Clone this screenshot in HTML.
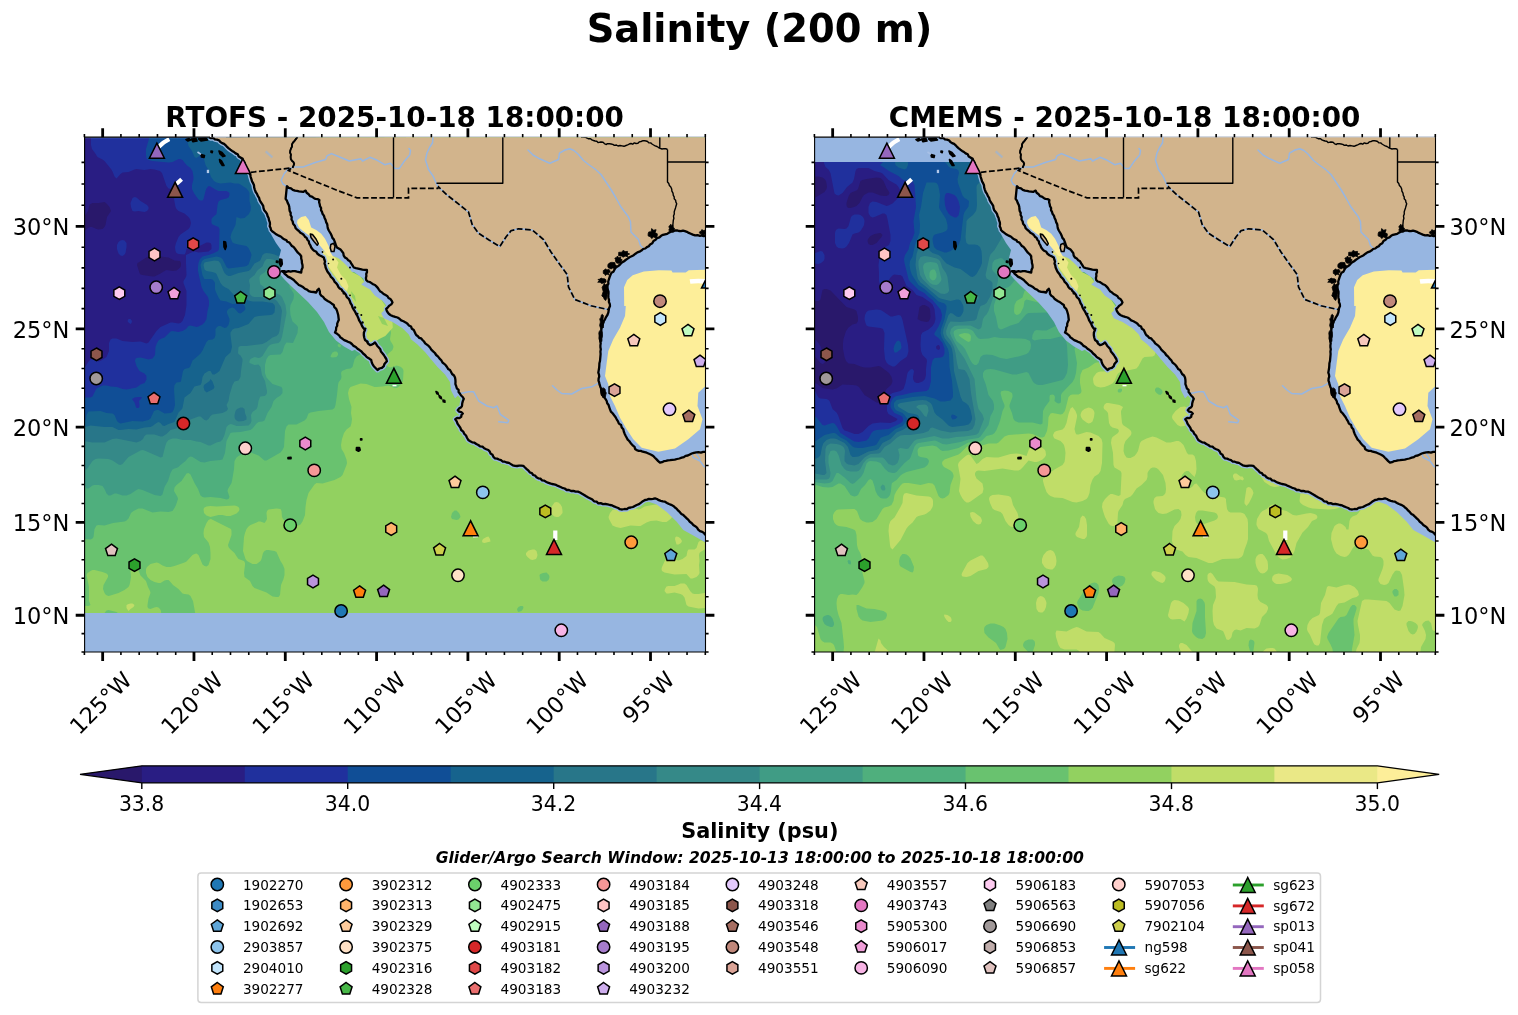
<!DOCTYPE html><html><head><meta charset="utf-8"><title>Salinity (200 m)</title>
<style>html,body{margin:0;padding:0;background:#fff}body{width:1518px;height:1015px;overflow:hidden}svg{display:block;will-change:transform}text{font-family:"DejaVu Sans","Liberation Sans",sans-serif;fill:#000}.b{font-weight:bold}.bi{font-weight:bold;font-style:italic}</style></head><body>
<svg width="1518" height="1015" viewBox="0 0 1518 1015">
<defs>
<clipPath id="axc"><rect x="84.6" y="137.15" width="620.9" height="514.85"/></clipPath>
<path id="landfill" d="M209,137.2  L707.5,135.2  L707.5,235.8  L703.6,236.2  L701.8,235.4  L699.9,235.8  L697.6,235.1  L695.1,235.3  L692.8,234.6  L690.8,233.7  L688.8,232.9  L686.9,231.8  L684.9,231.1  L683.0,230.6  L680.9,231.1  L678.9,231.0  L677.0,230.3  L674.9,230.5  L673.0,231.5  L670.9,231.7  L669.0,232.6  L667.2,233.9  L665.1,234.3  L663.0,234.8  L661.1,235.8  L659.4,237.4  L657.1,238.1  L655.6,239.8  L653.5,241.0  L652.3,243.3  L650.1,244.5  L648.8,246.2  L646.9,247.1  L645.3,248.5  L643.1,249.0  L641.4,250.6  L639.5,251.7  L637.4,252.4  L635.5,253.7  L633.7,255.2  L631.6,256.3  L629.5,257.2  L627.6,258.6  L625.6,260.0  L623.7,261.6  L621.6,262.7  L620.2,264.3  L618.7,265.7  L616.9,266.9  L615.3,268.2  L614.3,269.9  L613.4,271.7  L611.5,272.7  L610.6,274.5  L609.7,276.9  L608.9,279.3  L608.2,281.7  L608.4,283.7  L607.5,285.6  L607.5,287.6  L607.8,289.6  L608.5,291.6  L608.5,293.7  L608.3,295.9  L608.5,297.9  L609.0,300.0  L608.9,302.1  L609.8,304.0  L610.0,306.0  L609.1,308.1  L608.7,310.4  L608.3,312.7  L607.4,315.0  L606.0,317.1  L605.0,319.3  L603.8,321.2  L603.0,323.4  L602.5,325.6  L601.7,327.7  L601.3,330.0  L601.5,332.4  L601.0,334.7  L600.0,336.9  L600.0,339.3  L600.3,341.3  L600.7,343.3  L600.4,345.3  L600.4,347.3  L600.8,349.3  L600.4,351.6  L600.6,354.0  L600.4,356.3  L600.2,358.7  L600.0,361.0  L599.4,363.3  L599.3,365.7  L599.1,368.0  L598.7,370.4  L598.3,372.7  L599.0,374.7  L599.2,376.7  L598.6,378.7  L598.5,380.7  L599.2,382.7  L599.6,384.7  L600.3,386.7  L601.1,388.6  L601.2,390.7  L601.7,392.7  L602.5,395.0  L603.9,397.0  L605.4,398.9  L606.7,401.0  L607.2,403.2  L608.6,405.0  L609.2,407.2  L610.0,409.3  L610.9,411.6  L612.6,413.3  L614.1,415.3  L615.6,417.2  L616.7,419.3  L618.0,421.3  L618.9,423.6  L621.1,425.0  L621.7,427.5  L623.3,429.3  L623.8,431.5  L624.6,433.7  L625.6,435.7  L626.7,437.7  L627.7,439.6  L629.2,441.0  L630.4,442.7  L631.7,444.3  L633.0,445.7  L634.6,446.9  L635.1,449.0  L636.7,450.2  L638.7,450.8  L640.8,450.9  L642.7,451.7  L644.7,452.2  L646.7,452.7  L649.0,453.7  L651.2,454.7  L653.3,456.0  L654.9,457.7  L656.6,459.4  L658.2,461.1  L660.0,462.7  L662.0,462.2  L663.9,461.2  L665.9,460.9  L667.9,460.4  L670.0,460.2  L672.4,459.8  L674.8,459.6  L677.1,459.0  L679.4,458.5  L681.7,457.7  L683.8,457.2  L685.6,455.8  L687.8,455.5  L689.8,454.5  L691.7,453.5  L693.9,452.8  L696.2,452.4  L698.5,452.1  L700.9,452.6  L703.2,451.8  L707.5,451.8  L707.5,535  L704.1,533.2  L702.3,531.8  L700.0,531.1  L698.2,529.6  L697.0,527.6  L695.2,526.2  L693.3,525.0  L691.8,523.2  L689.8,521.8  L688.4,519.9  L686.7,518.3  L685.0,516.7  L683.4,515.1  L681.4,513.9  L679.9,512.2  L678.3,510.7  L676.8,508.9  L675.0,507.5  L673.3,505.9  L671.2,504.8  L669.0,504.0  L667.0,502.9  L665.0,501.7  L662.9,501.3  L660.8,500.8  L658.8,500.2  L657.0,499.0  L655.0,498.3  L653.0,498.8  L651.0,499.1  L648.9,498.9  L647.0,499.6  L645.0,500.0  L642.9,501.2  L641.0,502.7  L639.0,504.2  L636.7,505.0  L634.8,506.0  L632.9,507.0  L630.7,507.5  L628.5,507.9  L626.7,509.2  L624.5,509.0  L622.2,509.5  L620.0,509.2  L618.2,508.0  L616.1,507.2  L614.1,506.4  L612.2,505.4  L610.0,505.0  L607.7,504.4  L605.4,504.0  L603.0,504.1  L600.7,503.1  L598.3,503.3  L596.6,501.7  L594.1,501.3  L592.4,499.6  L590.4,498.5  L588.3,497.5  L586.2,496.3  L584.2,495.0  L582.1,493.8  L580.0,492.5  L577.9,491.6  L575.6,491.7  L573.4,490.9  L571.1,491.0  L569.0,490.0  L566.7,490.0  L564.7,488.5  L562.2,487.8  L560.0,486.7  L558.0,485.9  L556.1,484.9  L554.1,484.4  L552.0,484.0  L550.0,483.3  L547.9,482.7  L546.0,481.8  L544.2,480.6  L542.1,480.3  L540.4,478.7  L538.3,478.3  L536.5,477.3  L535.2,475.6  L533.2,475.0  L531.9,473.2  L530.0,472.5  L528.5,470.7  L526.7,469.1  L525.0,467.5  L523.3,465.8  L521.2,465.6  L519.1,465.7  L517.1,466.0  L515.0,465.8  L512.8,465.3  L510.9,464.1  L509.0,462.9  L506.7,462.5  L504.8,461.7  L502.6,461.5  L501.0,460.1  L499.0,459.5  L497.1,458.6  L495.0,458.3  L493.4,456.9  L492.5,454.8  L490.6,453.6  L489.8,451.6  L488.3,450.0  L486.2,449.2  L484.2,448.3  L482.5,446.6  L480.1,446.4  L478.3,445.0  L476.3,444.0  L474.5,442.7  L472.2,442.3  L470.2,441.3  L468.3,440.0  L467.0,437.7  L466.0,435.5  L464.2,433.7  L463.2,431.6  L461.2,430.0  L460.3,427.7  L458.9,425.7  L457.5,423.7  L456.7,421.3  L455.3,419.3  L457.1,418.0  L459.4,418.1  L461.2,416.8  L461.5,414.9  L462.8,413.5  L461.3,412.2  L459.2,411.7  L457.8,410.2  L459.0,408.6  L460.8,407.6  L462.0,406.0  L462.2,403.5  L462.8,401.1  L463.8,398.8  L462.7,397.0  L461.1,395.5  L460.0,393.8  L458.6,392.1  L458.6,389.8  L456.8,388.3  L456.2,386.2  L455.4,384.1  L455.5,381.9  L455.4,379.7  L455.0,377.5  L454.0,375.5  L452.1,374.0  L451.1,372.0  L450.0,370.0  L448.1,368.9  L447.0,367.0  L445.7,365.3  L444.2,363.8  L442.5,362.5  L441.3,360.3  L439.6,358.6  L438.1,356.6  L436.2,355.0  L434.9,353.0  L433.1,351.3  L431.3,349.6  L430.0,347.5  L428.6,345.9  L426.9,344.6  L425.2,343.3  L424.0,341.5  L422.5,340.0  L421.2,338.4  L419.1,337.8  L417.9,336.2  L416.2,335.0  L415.3,333.4  L414.6,331.7  L413.8,330.0  L411.9,328.7  L411.0,326.5  L408.9,325.5  L407.5,323.8  L405.6,322.4  L403.5,321.3  L401.2,320.4  L399.5,318.7  L397.5,317.5  L395.2,316.9  L392.9,316.1  L390.7,315.2  L388.8,313.8  L387.6,312.3  L386.7,310.6  L386.2,308.8  L387.9,307.3  L389.4,305.6  L391.3,304.4  L392.5,302.5  L391.6,300.6  L390.4,299.0  L388.5,298.0  L387.5,296.2  L385.6,295.1  L383.6,294.0  L381.9,292.4  L380.0,291.2  L378.9,289.6  L377.8,287.9  L376.4,286.4  L375.0,285.0  L373.1,284.2  L371.5,283.1  L369.8,282.0  L367.7,281.5  L366.2,280.0  L365.9,278.0  L366.4,276.0  L366.2,274.0  L367.0,272.0  L366.9,270.0  L364.7,269.9  L362.4,269.6  L360.3,269.1  L358.1,268.6  L355.9,268.2  L353.8,267.5  L352.5,265.4  L351.2,263.4  L350.0,261.2  L348.2,260.2  L346.8,258.6  L345.0,257.5  L343.7,255.6  L343.3,253.1  L341.9,251.2  L340.5,249.6  L338.7,248.5  L336.9,247.5  L336.0,245.5  L335.3,243.4  L334.6,241.4  L333.8,239.4  L332.4,237.9  L331.8,236.0  L331.0,234.2  L330.0,232.5  L328.8,230.5  L327.9,228.5  L327.5,226.2  L327.2,224.1  L326.1,222.1  L325.6,220.0  L324.6,217.9  L323.9,215.6  L322.5,213.8  L322.0,211.8  L321.0,210.1  L321.1,208.0  L320.0,206.2  L319.7,204.2  L319.1,202.1  L319.4,200.0  L317.6,199.1  L315.5,198.9  L313.7,197.9  L312.0,196.7  L310.0,196.2  L308.7,194.3  L306.6,192.8  L305.6,190.6  L303.1,191.9  L301.1,191.6  L299.0,191.3  L297.0,190.9  L295.0,190.6  L292.8,189.8  L291.0,188.3  L288.7,187.8  L286.9,186.2  L285.6,198.8  L286.9,200.7  L287.7,202.9  L288.8,205.0  L289.3,207.0  L289.4,209.0  L289.7,211.0  L290.7,212.9  L290.6,215.0  L291.7,217.0  L291.5,219.5  L292.7,221.5  L293.1,223.8  L294.8,225.7  L295.6,228.2  L297.5,230.0  L299.1,231.2  L300.4,232.8  L302.2,233.7  L303.8,235.0  L304.9,236.7  L306.6,237.9  L307.4,239.8  L308.8,241.2  L309.2,243.5  L310.4,245.4  L311.2,247.5  L312.6,249.3  L314.2,250.8  L316.3,251.8  L317.5,253.8  L319.4,255.2  L321.6,256.3  L323.8,257.5  L324.3,259.5  L325.0,261.4  L324.5,263.6  L325.3,265.5  L325.6,267.5  L326.5,269.5  L327.4,271.5  L328.7,273.2  L330.0,275.0  L330.9,276.9  L332.6,278.3  L333.8,280.0  L334.7,281.9  L336.3,283.3  L337.5,285.0  L338.4,286.9  L339.7,288.4  L341.6,289.4  L342.5,291.2  L344.4,292.9  L345.9,294.8  L346.8,297.2  L348.8,298.8  L349.8,300.9  L350.5,303.2  L351.8,305.2  L352.5,307.5  L353.5,309.3  L354.6,310.9  L355.6,312.7  L356.4,314.5  L357.5,316.2  L358.4,318.2  L359.0,320.2  L360.1,322.0  L361.2,323.8  L362.1,326.1  L363.4,328.1  L365.0,330.0  L363.9,332.4  L363.8,335.0  L364.2,337.5  L365.0,340.0  L366.9,341.4  L368.1,343.6  L370.0,345.0  L371.9,344.6  L373.5,343.7  L375.0,342.5  L376.2,344.2  L377.3,346.0  L378.8,347.5  L380.3,349.2  L380.9,351.5  L382.4,353.2  L383.8,355.0  L385.0,357.0  L386.3,359.0  L386.9,361.2  L385.5,362.7  L384.3,364.3  L383.8,366.2  L381.9,367.9  L379.4,368.5  L377.5,370.0  L373.8,366.2  L372.6,364.3  L371.7,362.2  L371.2,360.0  L369.6,358.8  L367.9,357.8  L366.3,356.6  L365.0,355.0  L363.1,353.5  L361.5,351.5  L359.6,350.1  L357.5,348.8  L355.8,347.0  L353.6,345.9  L351.9,344.0  L350.0,342.5  L348.0,341.8  L346.1,340.9  L344.2,340.1  L342.5,338.8  L340.4,337.4  L339.1,335.3  L337.1,333.8  L335.0,332.5  L336.0,330.1  L336.2,327.5  L337.2,325.7  L337.2,323.6  L337.9,321.8  L338.8,320.0  L338.5,317.5  L338.2,315.0  L337.5,312.5  L336.9,310.5  L336.0,308.6  L334.3,307.1  L333.8,305.0  L331.9,303.7  L330.1,302.3  L328.1,301.2  L326.2,300.0  L324.4,298.7  L323.1,296.9  L321.2,295.6  L320.0,293.8  L319.8,291.1  L318.8,288.8  L317.2,290.4  L316.2,292.5  L313.8,292.0  L311.2,291.9  L308.8,291.2  L307.0,289.6  L304.8,288.7  L303.0,287.1  L301.0,285.9  L298.8,285.0  L297.1,283.3  L295.3,281.7  L293.8,280.0  L291.9,278.7  L290.0,277.6  L287.9,276.6  L286.2,275.0  L284.7,273.9  L283.6,272.2  L281.9,271.2  L284.1,271.1  L286.2,271.9  L288.4,271.2  L290.6,271.7  L292.8,271.2  L295.0,271.2  L297.1,271.7  L299.2,272.1  L301.2,272.5  L301.5,270.0  L302.6,267.6  L302.5,265.0  L301.9,262.9  L301.8,260.6  L301.2,258.5  L301.2,256.2  L299.8,254.3  L297.9,252.7  L296.4,250.7  L295.0,248.8  L293.7,247.1  L291.9,246.0  L290.7,244.3  L289.5,242.6  L287.4,241.8  L286.2,240.0  L284.3,239.4  L282.6,238.3  L281.1,236.7  L279.3,235.9  L277.5,235.0  L275.7,234.0  L274.1,232.6  L272.4,231.5  L271.0,230.0  L270.6,228.1  L269.7,226.2  L270.0,224.1  L269.8,222.2  L269.0,220.3  L268.6,218.0  L267.6,216.1  L267.0,213.9  L265.7,212.0  L264.2,210.2  L263.5,208.1  L263.2,205.8  L262.0,203.9  L260.7,202.0  L259.6,200.0  L259.1,197.8  L257.8,195.9  L257.0,193.8  L255.7,192.0  L254.9,189.8  L254.2,187.6  L254.0,185.3  L253.1,183.2  L252.0,181.3  L251.4,179.1  L250.7,177.0  L250.3,174.6  L248.9,172.6  L248.2,170.3  L246.7,168.6  L245.8,166.7  L244.9,164.7  L244.5,162.4  L243.1,160.7  L242.3,158.7  L240.5,157.5  L238.7,156.4  L237.7,154.3  L235.6,153.4  L234.0,152.0  L232.1,150.9  L230.4,149.7  L228.7,148.4  L227.1,146.9  L225.7,145.3  L224.1,143.9  L222.1,143.1  L220.4,142.0  L219.0,140.3  L217.0,139.7  L214.9,139.3  L213.2,137.9  L210.9,138.2  L209,135.2Z"/>
<path id="coast" d="M705.5,235.8  L703.6,236.2  L701.8,235.4  L699.9,235.8  L697.6,235.1  L695.1,235.3  L692.8,234.6  L690.8,233.7  L688.8,232.9  L686.9,231.8  L684.9,231.1  L683.0,230.6  L680.9,231.1  L678.9,231.0  L677.0,230.3  L674.9,230.5  L673.0,231.5  L670.9,231.7  L669.0,232.6  L667.2,233.9  L665.1,234.3  L663.0,234.8  L661.1,235.8  L659.4,237.4  L657.1,238.1  L655.6,239.8  L653.5,241.0  L652.3,243.3  L650.1,244.5  L648.8,246.2  L646.9,247.1  L645.3,248.5  L643.1,249.0  L641.4,250.6  L639.5,251.7  L637.4,252.4  L635.5,253.7  L633.7,255.2  L631.6,256.3  L629.5,257.2  L627.6,258.6  L625.6,260.0  L623.7,261.6  L621.6,262.7  L620.2,264.3  L618.7,265.7  L616.9,266.9  L615.3,268.2  L614.3,269.9  L613.4,271.7  L611.5,272.7  L610.6,274.5  L609.7,276.9  L608.9,279.3  L608.2,281.7  L608.4,283.7  L607.5,285.6  L607.5,287.6  L607.8,289.6  L608.5,291.6  L608.5,293.7  L608.3,295.9  L608.5,297.9  L609.0,300.0  L608.9,302.1  L609.8,304.0  L610.0,306.0  L609.1,308.1  L608.7,310.4  L608.3,312.7  L607.4,315.0  L606.0,317.1  L605.0,319.3  L603.8,321.2  L603.0,323.4  L602.5,325.6  L601.7,327.7  L601.3,330.0  L601.5,332.4  L601.0,334.7  L600.0,336.9  L600.0,339.3  L600.3,341.3  L600.7,343.3  L600.4,345.3  L600.4,347.3  L600.8,349.3  L600.4,351.6  L600.6,354.0  L600.4,356.3  L600.2,358.7  L600.0,361.0  L599.4,363.3  L599.3,365.7  L599.1,368.0  L598.7,370.4  L598.3,372.7  L599.0,374.7  L599.2,376.7  L598.6,378.7  L598.5,380.7  L599.2,382.7  L599.6,384.7  L600.3,386.7  L601.1,388.6  L601.2,390.7  L601.7,392.7  L602.5,395.0  L603.9,397.0  L605.4,398.9  L606.7,401.0  L607.2,403.2  L608.6,405.0  L609.2,407.2  L610.0,409.3  L610.9,411.6  L612.6,413.3  L614.1,415.3  L615.6,417.2  L616.7,419.3  L618.0,421.3  L618.9,423.6  L621.1,425.0  L621.7,427.5  L623.3,429.3  L623.8,431.5  L624.6,433.7  L625.6,435.7  L626.7,437.7  L627.7,439.6  L629.2,441.0  L630.4,442.7  L631.7,444.3  L633.0,445.7  L634.6,446.9  L635.1,449.0  L636.7,450.2  L638.7,450.8  L640.8,450.9  L642.7,451.7  L644.7,452.2  L646.7,452.7  L649.0,453.7  L651.2,454.7  L653.3,456.0  L654.9,457.7  L656.6,459.4  L658.2,461.1  L660.0,462.7  L662.0,462.2  L663.9,461.2  L665.9,460.9  L667.9,460.4  L670.0,460.2  L672.4,459.8  L674.8,459.6  L677.1,459.0  L679.4,458.5  L681.7,457.7  L683.8,457.2  L685.6,455.8  L687.8,455.5  L689.8,454.5  L691.7,453.5  L693.9,452.8  L696.2,452.4  L698.5,452.1  L700.9,452.6  L703.2,451.8  L705.5,451.8 M705.5,535  L704.1,533.2  L702.3,531.8  L700.0,531.1  L698.2,529.6  L697.0,527.6  L695.2,526.2  L693.3,525.0  L691.8,523.2  L689.8,521.8  L688.4,519.9  L686.7,518.3  L685.0,516.7  L683.4,515.1  L681.4,513.9  L679.9,512.2  L678.3,510.7  L676.8,508.9  L675.0,507.5  L673.3,505.9  L671.2,504.8  L669.0,504.0  L667.0,502.9  L665.0,501.7  L662.9,501.3  L660.8,500.8  L658.8,500.2  L657.0,499.0  L655.0,498.3  L653.0,498.8  L651.0,499.1  L648.9,498.9  L647.0,499.6  L645.0,500.0  L642.9,501.2  L641.0,502.7  L639.0,504.2  L636.7,505.0  L634.8,506.0  L632.9,507.0  L630.7,507.5  L628.5,507.9  L626.7,509.2  L624.5,509.0  L622.2,509.5  L620.0,509.2  L618.2,508.0  L616.1,507.2  L614.1,506.4  L612.2,505.4  L610.0,505.0  L607.7,504.4  L605.4,504.0  L603.0,504.1  L600.7,503.1  L598.3,503.3  L596.6,501.7  L594.1,501.3  L592.4,499.6  L590.4,498.5  L588.3,497.5  L586.2,496.3  L584.2,495.0  L582.1,493.8  L580.0,492.5  L577.9,491.6  L575.6,491.7  L573.4,490.9  L571.1,491.0  L569.0,490.0  L566.7,490.0  L564.7,488.5  L562.2,487.8  L560.0,486.7  L558.0,485.9  L556.1,484.9  L554.1,484.4  L552.0,484.0  L550.0,483.3  L547.9,482.7  L546.0,481.8  L544.2,480.6  L542.1,480.3  L540.4,478.7  L538.3,478.3  L536.5,477.3  L535.2,475.6  L533.2,475.0  L531.9,473.2  L530.0,472.5  L528.5,470.7  L526.7,469.1  L525.0,467.5  L523.3,465.8  L521.2,465.6  L519.1,465.7  L517.1,466.0  L515.0,465.8  L512.8,465.3  L510.9,464.1  L509.0,462.9  L506.7,462.5  L504.8,461.7  L502.6,461.5  L501.0,460.1  L499.0,459.5  L497.1,458.6  L495.0,458.3  L493.4,456.9  L492.5,454.8  L490.6,453.6  L489.8,451.6  L488.3,450.0  L486.2,449.2  L484.2,448.3  L482.5,446.6  L480.1,446.4  L478.3,445.0  L476.3,444.0  L474.5,442.7  L472.2,442.3  L470.2,441.3  L468.3,440.0  L467.0,437.7  L466.0,435.5  L464.2,433.7  L463.2,431.6  L461.2,430.0  L460.3,427.7  L458.9,425.7  L457.5,423.7  L456.7,421.3  L455.3,419.3  L457.1,418.0  L459.4,418.1  L461.2,416.8  L461.5,414.9  L462.8,413.5  L461.3,412.2  L459.2,411.7  L457.8,410.2  L459.0,408.6  L460.8,407.6  L462.0,406.0  L462.2,403.5  L462.8,401.1  L463.8,398.8  L462.7,397.0  L461.1,395.5  L460.0,393.8  L458.6,392.1  L458.6,389.8  L456.8,388.3  L456.2,386.2  L455.4,384.1  L455.5,381.9  L455.4,379.7  L455.0,377.5  L454.0,375.5  L452.1,374.0  L451.1,372.0  L450.0,370.0  L448.1,368.9  L447.0,367.0  L445.7,365.3  L444.2,363.8  L442.5,362.5  L441.3,360.3  L439.6,358.6  L438.1,356.6  L436.2,355.0  L434.9,353.0  L433.1,351.3  L431.3,349.6  L430.0,347.5  L428.6,345.9  L426.9,344.6  L425.2,343.3  L424.0,341.5  L422.5,340.0  L421.2,338.4  L419.1,337.8  L417.9,336.2  L416.2,335.0  L415.3,333.4  L414.6,331.7  L413.8,330.0  L411.9,328.7  L411.0,326.5  L408.9,325.5  L407.5,323.8  L405.6,322.4  L403.5,321.3  L401.2,320.4  L399.5,318.7  L397.5,317.5  L395.2,316.9  L392.9,316.1  L390.7,315.2  L388.8,313.8  L387.6,312.3  L386.7,310.6  L386.2,308.8  L387.9,307.3  L389.4,305.6  L391.3,304.4  L392.5,302.5  L391.6,300.6  L390.4,299.0  L388.5,298.0  L387.5,296.2  L385.6,295.1  L383.6,294.0  L381.9,292.4  L380.0,291.2  L378.9,289.6  L377.8,287.9  L376.4,286.4  L375.0,285.0  L373.1,284.2  L371.5,283.1  L369.8,282.0  L367.7,281.5  L366.2,280.0  L365.9,278.0  L366.4,276.0  L366.2,274.0  L367.0,272.0  L366.9,270.0  L364.7,269.9  L362.4,269.6  L360.3,269.1  L358.1,268.6  L355.9,268.2  L353.8,267.5  L352.5,265.4  L351.2,263.4  L350.0,261.2  L348.2,260.2  L346.8,258.6  L345.0,257.5  L343.7,255.6  L343.3,253.1  L341.9,251.2  L340.5,249.6  L338.7,248.5  L336.9,247.5  L336.0,245.5  L335.3,243.4  L334.6,241.4  L333.8,239.4  L332.4,237.9  L331.8,236.0  L331.0,234.2  L330.0,232.5  L328.8,230.5  L327.9,228.5  L327.5,226.2  L327.2,224.1  L326.1,222.1  L325.6,220.0  L324.6,217.9  L323.9,215.6  L322.5,213.8  L322.0,211.8  L321.0,210.1  L321.1,208.0  L320.0,206.2  L319.7,204.2  L319.1,202.1  L319.4,200.0  L317.6,199.1  L315.5,198.9  L313.7,197.9  L312.0,196.7  L310.0,196.2  L308.7,194.3  L306.6,192.8  L305.6,190.6  L303.1,191.9  L301.1,191.6  L299.0,191.3  L297.0,190.9  L295.0,190.6  L292.8,189.8  L291.0,188.3  L288.7,187.8  L286.9,186.2  L285.6,198.8  L286.9,200.7  L287.7,202.9  L288.8,205.0  L289.3,207.0  L289.4,209.0  L289.7,211.0  L290.7,212.9  L290.6,215.0  L291.7,217.0  L291.5,219.5  L292.7,221.5  L293.1,223.8  L294.8,225.7  L295.6,228.2  L297.5,230.0  L299.1,231.2  L300.4,232.8  L302.2,233.7  L303.8,235.0  L304.9,236.7  L306.6,237.9  L307.4,239.8  L308.8,241.2  L309.2,243.5  L310.4,245.4  L311.2,247.5  L312.6,249.3  L314.2,250.8  L316.3,251.8  L317.5,253.8  L319.4,255.2  L321.6,256.3  L323.8,257.5  L324.3,259.5  L325.0,261.4  L324.5,263.6  L325.3,265.5  L325.6,267.5  L326.5,269.5  L327.4,271.5  L328.7,273.2  L330.0,275.0  L330.9,276.9  L332.6,278.3  L333.8,280.0  L334.7,281.9  L336.3,283.3  L337.5,285.0  L338.4,286.9  L339.7,288.4  L341.6,289.4  L342.5,291.2  L344.4,292.9  L345.9,294.8  L346.8,297.2  L348.8,298.8  L349.8,300.9  L350.5,303.2  L351.8,305.2  L352.5,307.5  L353.5,309.3  L354.6,310.9  L355.6,312.7  L356.4,314.5  L357.5,316.2  L358.4,318.2  L359.0,320.2  L360.1,322.0  L361.2,323.8  L362.1,326.1  L363.4,328.1  L365.0,330.0  L363.9,332.4  L363.8,335.0  L364.2,337.5  L365.0,340.0  L366.9,341.4  L368.1,343.6  L370.0,345.0  L371.9,344.6  L373.5,343.7  L375.0,342.5  L376.2,344.2  L377.3,346.0  L378.8,347.5  L380.3,349.2  L380.9,351.5  L382.4,353.2  L383.8,355.0  L385.0,357.0  L386.3,359.0  L386.9,361.2  L385.5,362.7  L384.3,364.3  L383.8,366.2  L381.9,367.9  L379.4,368.5  L377.5,370.0  L373.8,366.2  L372.6,364.3  L371.7,362.2  L371.2,360.0  L369.6,358.8  L367.9,357.8  L366.3,356.6  L365.0,355.0  L363.1,353.5  L361.5,351.5  L359.6,350.1  L357.5,348.8  L355.8,347.0  L353.6,345.9  L351.9,344.0  L350.0,342.5  L348.0,341.8  L346.1,340.9  L344.2,340.1  L342.5,338.8  L340.4,337.4  L339.1,335.3  L337.1,333.8  L335.0,332.5  L336.0,330.1  L336.2,327.5  L337.2,325.7  L337.2,323.6  L337.9,321.8  L338.8,320.0  L338.5,317.5  L338.2,315.0  L337.5,312.5  L336.9,310.5  L336.0,308.6  L334.3,307.1  L333.8,305.0  L331.9,303.7  L330.1,302.3  L328.1,301.2  L326.2,300.0  L324.4,298.7  L323.1,296.9  L321.2,295.6  L320.0,293.8  L319.8,291.1  L318.8,288.8  L317.2,290.4  L316.2,292.5  L313.8,292.0  L311.2,291.9  L308.8,291.2  L307.0,289.6  L304.8,288.7  L303.0,287.1  L301.0,285.9  L298.8,285.0  L297.1,283.3  L295.3,281.7  L293.8,280.0  L291.9,278.7  L290.0,277.6  L287.9,276.6  L286.2,275.0  L284.7,273.9  L283.6,272.2  L281.9,271.2  L284.1,271.1  L286.2,271.9  L288.4,271.2  L290.6,271.7  L292.8,271.2  L295.0,271.2  L297.1,271.7  L299.2,272.1  L301.2,272.5  L301.5,270.0  L302.6,267.6  L302.5,265.0  L301.9,262.9  L301.8,260.6  L301.2,258.5  L301.2,256.2  L299.8,254.3  L297.9,252.7  L296.4,250.7  L295.0,248.8  L293.7,247.1  L291.9,246.0  L290.7,244.3  L289.5,242.6  L287.4,241.8  L286.2,240.0  L284.3,239.4  L282.6,238.3  L281.1,236.7  L279.3,235.9  L277.5,235.0  L275.7,234.0  L274.1,232.6  L272.4,231.5  L271.0,230.0  L270.6,228.1  L269.7,226.2  L270.0,224.1  L269.8,222.2  L269.0,220.3  L268.6,218.0  L267.6,216.1  L267.0,213.9  L265.7,212.0  L264.2,210.2  L263.5,208.1  L263.2,205.8  L262.0,203.9  L260.7,202.0  L259.6,200.0  L259.1,197.8  L257.8,195.9  L257.0,193.8  L255.7,192.0  L254.9,189.8  L254.2,187.6  L254.0,185.3  L253.1,183.2  L252.0,181.3  L251.4,179.1  L250.7,177.0  L250.3,174.6  L248.9,172.6  L248.2,170.3  L246.7,168.6  L245.8,166.7  L244.9,164.7  L244.5,162.4  L243.1,160.7  L242.3,158.7  L240.5,157.5  L238.7,156.4  L237.7,154.3  L235.6,153.4  L234.0,152.0  L232.1,150.9  L230.4,149.7  L228.7,148.4  L227.1,146.9  L225.7,145.3  L224.1,143.9  L222.1,143.1  L220.4,142.0  L219.0,140.3  L217.0,139.7  L214.9,139.3  L213.2,137.9  L210.9,138.2  L209.0,137.2"/>
<path id="isl" d="M186,139.5  L189,138.6  L190.5,140  L188,141Z M191.5,139  L196,138.6  L197,141  L193,141.8Z M198.5,138.8  L206,138.4  L207.5,140  L201,141Z M201,154.5  L204.5,155.5  L204,157.5  L201.5,157Z M211,151  L212.5,151.3  L212.2,152.6  L211,152.3Z M219,151  L222,152.5  L225,156  L223,156.6  L220,154Z M219.5,159.5  L221.5,161  L224,165.5  L222.3,165.5  L220,162Z M223.8,241.5  L225.6,242  L226.3,246.5  L225.2,249.5  L224,247Z M279.8,259  L281.8,259.5  L282.3,264  L280.8,266.5  L279.3,263Z M276.5,261  L277.8,261.3  L277.5,262.5  L276.4,262.2Z M436,391.5  L437.8,392.5  L438.3,394.3  L436.8,393.8Z M439,395.5  L441,396.8  L441.5,398.8  L439.6,397.6Z M443,400  L444.8,400.6  L445,402.3  L443.3,401.8Z M360.6,438.8  L361.8,438.8  L361.8,440  L360.6,440Z M356.5,447.5  L359.5,447.5  L360.2,450  L358.5,451.3  L356.3,450Z M288,457.6  L291,457.4  L291,458.7  L288,458.7Z"/>
<path id="islb" d="M310.3,234  L312.5,234.5  L316,239  L318.3,243.5  L317.2,245.3  L314,241.5  L311,237.5Z M330.8,244.5  L333.5,243.3  L335,246.5  L334,251.5  L331.3,251.5  L330.3,248Z"/>
<path id="states" d="M393.5,137  L393.5,197.5 M502.8,137  L502.8,183.2  L436.5,183.2 M581,137  L583.0,137.1  L585.1,137.2  L587.0,138.0  L588.5,138.8  L590.5,138.7  L591.9,139.9  L593.5,140.5  L595.1,141.0  L596.8,141.3  L598.0,142.5  L599.5,142.3  L601.0,142.0  L603.0,142.3  L604.4,143.6  L606.0,144.5  L607.6,143.7  L609.3,143.6  L611.0,144.0  L612.8,144.4  L614.4,145.4  L616.4,145.0  L618.0,146.0  L620.0,145.5  L622.0,145.9  L624.0,146.3  L626.0,145.5  L627.7,144.9  L629.3,144.0  L631.0,143.5  L632.7,144.2  L634.3,142.9  L636.0,143.5  L637.9,143.3  L639.2,141.9  L641.0,141.5  L642.6,140.8  L644.3,140.6  L646.0,141.0  L647.6,141.5  L648.8,142.9  L650.7,142.9  L652.0,144.0  L653.6,145.0  L655.2,145.9  L657.0,146.5  L658.5,147.5  L660.2,148.3  L662.0,149.0  L663.9,148.6  L665.7,148.7  L667.5,149.5 M659.8,137  L659.8,148 M667.5,149.5  L667.5,162  L705.5,162 M667.5,162  L667.5,182  L668.8,183.5  L669.4,185.6  L670.8,187.0  L671.7,189.0  L671.9,191.2  L673.0,193.1  L673.3,195.3  L674.2,196.9  L674.2,198.8  L675.6,200.2  L675.9,202.1  L676.7,203.7  L676.1,205.8  L675.5,207.9  L674.8,209.9  L674.2,212.0  L674.3,214.1  L673.5,216.1  L673.9,218.3  L673.3,220.3  L673.1,222.4  L672.9,224.5  L672.3,226.5  L671.7,228.5 M297.5,137  L296.4,138.4  L295.3,139.8  L294.3,141.3  L293.0,142.5  L292.0,144.4  L292.0,146.6  L291.0,148.5  L290.3,150.5  L290.1,152.6  L290.9,154.7  L290.6,156.9  L290.8,159.0  L291.9,160.7  L293.4,162.0  L294.2,163.8  L293.4,165.8  L292.5,167.8"/>
<path id="border" d="M250.7,172.3  L291.5,168  L288.5,170.5  L337,190.3  L357,197.8  L408.5,197.8  L408.5,188.3  L437.8,188.3  L438.5,187  L447,195  L456,202  L468.5,212  L472.2,224.5  L478.5,233.2  L489,240  L499.8,246.5  L506,237  L511,230.8  L518.5,228.8  L532.2,230  L543.5,239.5  L551,252  L559.8,264.5  L567.2,274.5  L568.5,287  L574.8,299.5  L591,305.8  L608,309.5"/>
<path id="rivers" d="M292.5,167.8  L288.6,168.6  L284,174  L281.2,180.2  L283,184  L286.4,186.1 M294.5,166.9  L303.4,166.9  L315.2,162.5  L325.6,159.5  L327,155.8  L331.5,153.6  L340.3,157.3  L349.2,161  L361,158.8  L362.5,161  L369.9,157.3  L377.3,160.3  L384.6,164.7  L390.5,163.2  L395,168.4  L399.4,168.4  L403.8,161.8  L409.7,155.1  L410.5,150.7  L409,148.5 M433,137  L432.5,143  L429.8,147  L427,153  L425.5,160  L428.5,169.5  L433,176  L436.5,184  L438.5,187 M528,150  L533,155  L538.5,158.2  L549.8,163.2  L558.5,159.5  L559.5,153.2  L565,150  L569.8,148.8  L574,150.5  L578.5,154.5  L583,160  L588.5,164.5  L595,169  L601,174.5  L606,182  L611,189.5  L616,198  L621,207  L628.5,217  L630.5,222  L631,232  L638.5,239.5  L640.5,245.5  L643.5,248.5 M552.5,385.7  L557,390  L561.7,393.5  L571.7,394  L581.7,388.5  L591.7,386.8  L599.2,382.7 M460.3,393.5  L468.7,391.8  L473.7,391.8  L478.7,401  L487,406  L493.7,407.7  L497,406  L500.3,414.3  L508.7,420.2  L507.8,422.7  L498.7,421.8 M691.7,453.5  L693.3,457.7  L700,461  L704.2,466.8 M696,453  L700,459 M438.5,187  L447,195  L456,202  L468.5,212  L472.2,224.5  L478.5,233.2  L489,240  L499.8,246.5  L506,237  L511,230.8  L518.5,228.8  L532.2,230  L543.5,239.5  L551,252  L559.8,264.5  L567.2,274.5  L568.5,287  L574.8,299.5  L591,305.8  L608,309.5"/>
<g id="landg">
<use href="#landfill" fill="#d2b48c"/>
<path d="M265.7,151.4 L272.4,157.3" stroke="#aab4c0" stroke-width="2.2" fill="none"/>
<use href="#rivers" fill="none" stroke="#97b6e1" stroke-width="1.5" stroke-linejoin="round" stroke-linecap="round"/>
<use href="#coast" fill="none" stroke="#000" stroke-width="2.3" stroke-linejoin="round"/>
<use href="#isl" fill="#000" stroke="#000" stroke-width="1.6" stroke-linejoin="round"/>
<use href="#islb" fill="#d2b48c" stroke="#000" stroke-width="1.5" stroke-linejoin="round"/>
<g fill="#000"><circle cx="333.1" cy="259.4" r="1"/><circle cx="350" cy="267.5" r="1"/><circle cx="341.3" cy="278.8" r="1"/><circle cx="343.8" cy="293.4" r="1.2"/><circle cx="350" cy="295.3" r="0.9"/><circle cx="355" cy="307.5" r="1.2"/><circle cx="357.5" cy="313.8" r="1.1"/><circle cx="361.3" cy="315" r="1"/><circle cx="362.5" cy="322.5" r="1.2"/><circle cx="365.3" cy="328.6" r="1.2"/><circle cx="322.5" cy="252" r="0.9"/><circle cx="328.5" cy="263.5" r="0.8"/><circle cx="367.5" cy="341.5" r="1.1"/></g>
<path d="M297.5,137  L296.4,138.4  L295.3,139.8  L294.3,141.3  L293.0,142.5  L292.0,144.4  L292.0,146.6  L291.0,148.5  L290.3,150.5  L290.1,152.6  L290.9,154.7  L290.6,156.9  L290.8,159.0  L291.9,160.7  L293.4,162.0  L294.2,163.8  L293.4,165.8  L292.5,167.8" fill="none" stroke="#000" stroke-width="1.9" stroke-linejoin="round"/>
<use href="#states" fill="none" stroke="#000" stroke-width="1.4" stroke-linejoin="round"/>
<path d="M657.3,233.8  L657.2,235.9  L656.1,237.9  L653.5,237.0  L651.7,238.6  L650.4,236.7  L648.2,236.0  L648.1,233.8  L648.8,231.9  L651.2,231.8  L651.6,228.6  L653.6,230.2  L656.1,229.7  L655.1,232.7Z M674.5,228.3  L674.0,230.1  L673.0,231.2  L671.7,230.5  L670.7,232.6  L669.8,231.2  L668.8,230.1  L669.5,228.3  L668.8,226.5  L669.9,225.6  L670.8,224.2  L671.8,225.9  L673.1,225.2  L673.2,227.0Z M705.6,232.6  L705.0,233.6  L704.5,234.7  L703.2,234.9  L701.9,235.4  L701.5,233.8  L700.0,233.7  L699.4,232.6  L699.9,231.5  L701.3,231.2  L701.8,229.6  L703.2,230.5  L704.8,230.2  L704.9,231.7Z M629.7,254.0  L627.3,254.9  L627.8,256.8  L625.1,256.1  L623.1,257.2  L621.6,256.1  L618.6,255.7  L618.7,254.0  L618.7,252.3  L622.0,252.2  L623.0,250.4  L625.2,251.6  L627.6,251.4  L627.3,253.1Z M622.2,259.8  L621.4,261.2  L620.8,262.7  L619.2,263.3  L617.5,263.3  L616.1,262.6  L615.5,261.1  L615.6,259.8  L614.8,258.2  L616.4,257.4  L617.5,256.1  L618.9,257.9  L620.7,257.1  L620.5,258.8Z M616.8,265.8  L615.9,267.3  L614.8,268.6  L612.7,268.1  L611.1,268.9  L609.5,268.3  L608.0,267.4  L607.8,265.8  L608.1,264.3  L609.3,263.1  L611.0,262.4  L613.0,262.4  L615.0,262.8  L615.0,264.6Z M610.1,272.0  L608.5,272.9  L608.9,275.0  L606.9,274.0  L605.5,275.6  L604.7,274.0  L603.3,273.4  L603.3,272.0  L603.3,270.6  L604.6,269.8  L605.6,268.8  L606.9,270.0  L608.8,269.2  L609.8,270.5Z M606.0,280.8  L606.1,282.1  L604.4,282.8  L602.9,283.3  L601.1,283.3  L600.3,282.2  L597.7,282.2  L599.3,280.8  L598.0,279.5  L599.9,279.1  L601.1,278.1  L602.8,278.7  L604.5,278.8  L605.8,279.6Z M608.2,291.5  L607.1,294.4  L606.8,298.1  L605.7,300.5  L604.4,299.5  L603.4,297.2  L601.8,295.9  L603.2,291.5  L602.1,287.4  L603.3,285.3  L604.4,283.4  L605.5,285.0  L607.1,283.9  L607.2,288.4Z M604.2,322.0  L603.4,324.5  L603.3,328.0  L602.1,326.6  L601.2,329.9  L600.4,327.7  L599.6,325.4  L600.4,322.0  L599.7,318.7  L600.8,317.9  L601.3,315.1  L602.3,314.3  L603.4,315.4  L602.9,320.2Z M602.5,336.0  L602.0,338.3  L601.9,341.5  L600.9,340.9  L600.2,342.3  L599.6,340.2  L599.0,338.6  L599.1,336.0  L598.8,333.1  L599.4,331.2  L600.2,330.3  L600.9,331.7  L601.7,331.4  L602.3,333.3Z M606.3,393.0  L605.7,395.0  L605.3,397.4  L603.9,396.1  L602.9,397.6  L602.2,396.0  L601.1,395.2  L600.8,393.0  L600.9,390.6  L602.0,389.4  L602.9,387.7  L604.0,388.4  L605.1,389.1  L605.4,391.2Z" fill="#000" stroke="#000" stroke-width="0.8" stroke-linejoin="round"/>
<use href="#border" fill="none" stroke="#000" stroke-width="1.7" stroke-dasharray="5.8 2.5"/>
</g>
<circle id="mo" r="6.2" stroke="#000" stroke-width="1.5"/><polygon id="mh" points="0.00,-6.30 5.46,-3.15 5.46,3.15 0.00,6.30 -5.46,3.15 -5.46,-3.15" stroke="#000" stroke-width="1.5" stroke-linejoin="miter"/><polygon id="mp" points="0.00,-6.30 5.99,-1.95 3.70,5.10 -3.70,5.10 -5.99,-1.95" stroke="#000" stroke-width="1.5" stroke-linejoin="miter"/><polygon id="mt" points="0,-7.5 -7.5,7.5 7.5,7.5" stroke="#000" stroke-width="1.5" stroke-linejoin="miter"/>
</defs>
<text class="b" x="759.5" y="42.2" font-size="38.4" text-anchor="middle">Salinity (200 m)</text>
<text class="b" x="394.6" y="126.7" font-size="27.82" text-anchor="middle">RTOFS - 2025-10-18 18:00:00</text>
<text class="b" x="1124.6" y="126.7" font-size="27.82" text-anchor="middle">CMEMS - 2025-10-18 18:00:00</text>
<g transform="translate(0,0)">
<g clip-path="url(#axc)">
<rect x="84.6" y="137.15" width="620.9" height="514.85" fill="#97b6e1"/>
<clipPath id="dc0"><rect x="80" y="130" width="640" height="483.0"/></clipPath><g clip-path="url(#dc0)"><rect x="80" y="130" width="640" height="530" fill="#29186b"/><g transform="scale(0.5)" fill-rule="evenodd"><path fill="#291d83" d="M165 266l1256 0 0 1048-1260 0 0-829 4-2 3-5 1-4-2-8 2-4 8-7 4-1 3 0 9 4 4 1 8-1 4-4 2-4 3-16 8-12-3-8-6-7-4-3-12 2-12 0-4 2-2 2-3 12-5 8-10 6 0-170zM294 514l-17 11-2 1-1 4 5 16 2 3 4 1 20 3 4 0 12-6 8-5 4-2 12 2 8-1 4-3 4-4 1-4 0-4-1-2-1-2-11-1-12-6-32-4-4 1z"/><path fill="#20309d" d="M185 266l1236 0 0 1048-1260 0 0-574 4-1 4-3 8-13 4-4 4-1 12 5 4-1 12-8 5-12 0-16 3-7 4-2 8 0 12 5 20 2 16-1 12 4 4-2 16-23 8-8 20-9 4 0 12 2 4-1 4-4 5-12 3-20 0-28-6-16 0-4 5-8 1-4-1-24 0-16 13-6 4-1 8 2 20-2 6-5 0-4 0-4-2-4-4-1-4 0-12 6-24 5-4 2-2 8-2 3-12-1-4-2-2-4-1-8 2-8 5-12 4-5 16-11 3-4 2-8-2-8-3-4-8-7-12-5-4-4-2-4-3-16 3-12 0-4-6-4-8-1-4-5-9-26-4-4-11-3-8-1-12 2-16-2-4 1-12 5-12 1-4 3-8 9-4-4-4-10-3-5-13-16-4-3-10-5-5-8-6-8-2-8 0-16 1-8zM269 394l4 1 8 7 13 8 3 4 0 4-3 4-5 2-12-2-8 1-4-1-3-8-1-8 4-10zM241 481l4-1 4 1 4 5 0 8-2 12-2 3-4 3-4-1-4-4-3-9 0-8 3-6zM257 638l4 0 3 4-1 4-2 2-4-3-2-3z"/><path fill="#104e96" d="M301 266l1120 0 0 1048-1260 0 0-518 12-1 8 0 4-2 8-16 12-6 8 0 8 2 13 1 11 4 8 1 20-4 8-6 8-3 4-7 0-7-4-5-10-5-6-10-3-10 1-4 2-2 8-1 16 4 8-2 5-7 1-16 3-8 3-5 4-3 8-3 12-12 4-1 12 2 8-2 7-4 5-6 4-1 12 3 4-1 8-4 4-4 4-7 2-16 3-12 0-8-2-8-9-12-4-8-7-32 0-8 1-8 3-8 5-5 12-3 11-4 8-4 2-4 1-40-2-4-12-5-2-3 0-4 0-4 2-3 8-7 2-18 2-7 4-3 12-3 4-2 2-5 0-4-2-2-4-2-16 0-8-4-8-5-4-1-4 5-2 5-4 16-2 3-4 0-4-2-8-11-5-10 0-8 3-12 0-4-2-12-4-6-8-6-8-10-4-2-4 0-12 6-8 1-32-3-8-2-4-3-1-7 0-12 6-20 0-12zM276 794l-7 1-5 3 5 7 3 9 1 2 4 0 2-2 0-4-1-8 4-4 2-4-3 0z"/><path fill="#16638d" d="M377 266l1044 0 0 1048-1260 0 0-466 4 0 4-3 3-7 1-8 4-7 24-1 12 4 12 1 4 3 5 12 3 3 4 2 24-5 20 1 12-3 4-3 7-15 5-2 4 0 12 7 12-1 4-2 3-6 2-8-2-32 1-8 4-5 8-1 1-2 4-20 3-4 8-2 3-2 5-13 12-10 4-4 4-6 8-17 4-4 8-1 4-3 2-6 0-12 3-4 3-2 4 0 8 4 4-1 4-5 2-8 0-4-5-12 0-4 3-4 4-2 4-1 4 2 8 9 4 1 7-5 3-4-1-4-2-4-5-4-18 2-12-5-12-2-4-6-6-13-1-4 0-12-2-4-3-3-4-1-12 0-4-7-1-5-3-16 3-8 5-4 24-5 8 2 4 3 8 16 4 3 32-4 4-1 4-3 4-11 2-8-1-4-5-10-4-4-16-3-8-2-4-2-3-7-1-4 2-8 8-16 2-16 8 3 8-1 8-7 4-7 1-8-3-12 0-16-2-4-4-5-12-8-4-2-8 0-8-2-20 2-8-2-5-3-6-8-5-14-6-10-3-12-3-5-4-3-8 6-4-2-5-12-7-10-2-10 0-16z"/><path fill="#287689" d="M521 270l12-2 36 2 24-3 28 2 4-1 3-2 793 0 0 1048-1260 0 0-458 20-5 28 3 16 0 12 6 4 0 16-2 16 1 16-4 12-1 4-2 8-6 4-2 4 2 4 5 4 1 8-4 12-4 8-19 7-7 1-2 4-21 12-9 8-13 12-3 2-4 2-12 4-7 8-5 4 0 4 7 4 0 5-3 5-4 12-28 10-9 1-3 2-8-3-24 0-5 4-6 4-2 8-1 20-8 12-14 8-2 24-2 4-1 4-4 1-11-1-4-4-4-20-3-20 0-8-2-12-7-17-4-11-12-8-4-4-3-4-5-8-18-2-2-6-2-12-2-4-3-2-9 2-5 4-1 16-3 8 1 4 5 6 15 2 4 4 4 4 2 4 0 16-6 20-4 4-3 8-12 10-5 2-2 4-10 4-3 4-1 8 1 8 2 12 5 8 2 8-2 4-2 5-6 2-4 0-4-3-4-13-12-8-12 0-4 3-8 0-4-2-4-4-3-8-1-4-4-2-12-4-8-1-4 2-12-1-4-6-13-8-4-8-5-8-1-4-5-1-4 1-5 4-1 8 2 4-6 3-10 0-4-7-12-3-12-4-8-13-18-8-5-12-5-3-4-1-4 16-7 4 0 12 1zM421 758l-2 4-11 8-1 4 2 7 4 4 14-7 2-4-4-11z"/><path fill="#358988" d="M633 266l788 0 0 1048-1260 0 0-434 12 3 12 2 20 0 4 0 16-7 8-1 40 8 8-3 5-4 3-6 4-3 16 0 12 4 4 0 8-5 8-8 12-3 12-11 16-7 16-6 4 0 8 7 4 1 4-3 4-6 4-3 20-3 8-4 3-4-3-8 4-8 2-12 6-20 4-7 8-2 4-7 1-12 3-20 0-4-4-7-4-3-1-2 1-12 4-2 12 0 32-4 8-4 12-9 8-3 4-4 2-6 5-40-2-8-8-12-5-4-4-1-12-1-12-2-12 0-4-1-4-3-2-4 0-4 1-12-2-8 1-4 10-8 5-8 3-3 8-6 4-10 4-5 8 0 8 2 16 10 8 1 12-4 20-13 8-8 3-8-2-8-6-12-3-16 0-4 6-12 0-8 4-8 0-8-2-5-4-3-12-7-2-5-1-8-5-16 3-12 0-4-5-12-1-8-2-4-3-1-12-3-8-5-4-2-9-1-7-4-2-8 1-8-3-8 2-8-1-4-2-4 3-4 18-2 16 0 16-3 36 0 4-1 3-6zM474 818l-3 4-2 8 0 4 1 4 3 3 4 2 10-1 6-3 0-5-3-8-1-8-4-3-4 0z"/><path fill="#409c85" d="M637 266l784 0 0 1048-1260 0 0-373 8-1 5-2 11-16 6-4 6-1 20 1 8 3 12 8 4 1 4-2 12-14 24-13 4-1 4 1 32 14 4-1 5-20 3-9 4-5 8-3 8 0 12 3 16 0 12 3 8 1 16 7 4 0 12-6 8-2 4-4 4-9 4-16 4-4 4-2 4 1 8 3 8 0 16-1 4-4 2-5-1-12 2-4 1-2 8-6 2-4 2-12 3-8 1-1 8-1 3-2 2-4 0-4-4-20-6-12-3-16-4-5-8 1-10-4 0-4 2-4 8-4 8 2 4-1 4-3 11-18 4-4 5-2 12-2 4-4 3-8 9-48-2-16-7-16-4-4-7-3-8-1-8 0-4-2-5-10-7-5-1-3-1-8 0-4 2-4 8-5 8-11 4-1 7 1 17 10 8 3 4 1 8-2 4-2 8-9 4-2 12-6 12-2 20-10 4-5 3-8 0-8-5-16-1-12 1-8 2-6 3-2 9 0 3-4 0-4-8-12 1-20-4-7-4-3-4-1-9-1-3-3-5-9-12-8-3-4 0-16 1-4 9-12 0-4-6-8-5-24-4-8-2-8-4-8 19-2 8-3 4-3 2-4 0-4z"/><path fill="#4faf7d" d="M637 266l784 0 0 1048-1260 0 0-349 4 1 4 4 4 7 4 0 8-6 4-1 8 0 8 2 4 6 4 9 4 4 4 0 8-4 4 0 12 4 8 0 8-3 12-8 4-2 8 2 24 10 12 2 4-3 4-15 7-12 5-16 4-7 4-2 4-1 4-2 4-4 10-8 6-7 4-2 4 1 16 10 8 1 12-3 20-2 4-1 5-13 3-24 8-16 4-1 16-1 20-4 4-3 8-10 4-3 8-1 4-2 6-15 8-12 4-12 6-6 8-5 4-5 0-8-2-4-18-6-12-13-3-9 0-16 3-12 4-6 4-2 20-1 4-5 4-13 4-6 13 1 9-20 1-12-3-4-8-7-4-13-1-12 1-8 6-12 1-8-1-4-8-12 0-4 2-1 4 0 12 1 4 1 8 5 7-2 5-5 1-15 7-8 8-3 20-5 4-3 4-6 3-3 9-2 9-6 8-8 2-4 2-4 1-16-5-8-1-4 0-4 6-8 1-4 0-12-1-4-10-11-1-5-1-28-4-16-6-7-4-3-8-2 4-4 1-12 4-12 0-4-3-8 1-4 4-8 0-8-3-6-9-6-7-12-4-3-12-1-2-4z"/><path fill="#69c26f" d="M641 266l780 0 0 1048-1260 0 0-235 8-1 12 1 4-2 2-3 2-16 4-7 4-1 12 1 17-5 23-3 4-2 4-4 5-11 5-4 10-5 8 0 20 8 16-2 16 1 8-2 4-6 3-6 4-12-1-4-7-12 1-7 4-5 10-8 10-15 4-1 4 3 8 17 7 12 5 13 4 3 4 1 12-1 20 2 12 3 4-1 2-4-4-12 1-4 7-12 1-4 4-24 1-16 4-7 4-3 12-6 4-1 8 0 16 6 12 10 4 0 28-16 4-5 3-6 2-32 3-9 4-4 16 0 16-8 4-4 4-10 4-2 16-3 28-3 4-3 2-6 3-20 2-20 1-5 5-7 1-4-1-8 2-4 9-4 8-1 4-3 4-15 4-6 12-7 12-1 3-3 1-4-1-4-3-2-8-3-10-7-1-4 4-8-1-4-4-4-12 2-4-2-8-12-12-4-3-4-1-12-8-8-1-4 7-20-1-8-3-8-7-8 17-9 4-7 6-20 3-4 3-2 12-4 8-6 4-2 12 1 5-3 5-8 1-4 0-12 6-12 0-4-4-12 0-16-3-8-2-16-3-4-9-4-5-4-2-4-1-4 1-4 6-8 3-16 4-8-1-4-4-8-1-4 2-4 4-4 2-4 0-8-4-5-4-1-2 2-6 13-4 1-4-5 0-5 7-12 1-4 0-12 4-12-8-12-4-3-4-1-24-3-40-2-4-3-1-4zM686 586l1 4 2 3 4-3 0-4-4-2zM677 688l4 1 1 1-1 5-4-1-2-4zM665 705l4-2 4 0 3 3 0 4-3 4-8 1-4-1 1-4z"/><path fill="#92d160" d="M645 266l776 0 0 1011-1 1-1 4 2 4 0 28-1017 0-7-13-1-7 1-12 2-8 1-8 16-8-4-4-11-2-4-2-3-4-8-44-5-10-4-3-8-1-4-1-8-9-11-8-5-6-4-4-4 0-4 1-8 5-4 0-8-2-8-4-6-6-3-8 0-8 2-4 7-6 12-3 4 1 8 5 8 3 8 0 8-2 20-7 4-2 12-13 4-2 4-1 4 3 8 19 4 3 4 1 4-3 4-12 0-12-1-12-3-9-9-11-1-8 1-8 5-12 4-6 4-2 0-1 1 1 40 20 1 4 0 8-7 20 1 4 3 4 9 8 5 8 3 4 11 4 2 4 0 4-2 16 1 8 11 8 5 10 4 4 24 9 12 8 8 1 4 0 3-4 2-20 5-12 2-8 0-12-3-8-5-8-8-18-4-2-12-2-4 0-4 2-3 4-3 12-2 4-5 4-3 2-8 0-11-6-3-4-5-16 2-28 2-8 3-8 4-5 4-3 12-5 4-2 4 0 8 3 3-4 2-4-1-12 1-4 3-3 16-2 8 1 2 4 1 12 2 4 3 3 16 1 8 8 4 1 4-2 4-6 5-13 1-16 2-14 4-14 12-17 4-3 12 1 24-7 12-6 4-4 8-20 1-4-1-7-5-13-5-8-1-8 2-12 4-12 5-7 8-6 2-7 1-8-2-12 1-12-5-16-2-12 2-8 3-4 20-7 12 1 16 6 4 0 12-1 12-2 12 5 4 0 4-2 4-4 5-8 1-20-1-4-4-4-5-2-4-1-12 4-4-1-4-4-4-8 1-4 1-4 6-7 8-7 2-6-1-4-5-8-1-4 2-12-1-8 3-12 0-24-7-7-4-2-12 1-8-3-4-2-6-7-3-4-1-8 2-12-2-12 2-8 0-4-4-8 2-4 10-13 4-4 12-6 8-5 4-4 2-4 0-4-1-8 2-8-1-4-9-20 0-4 5-8 1-8-3-8-12-20-2-8 3-20 5-16 3-24 6-12 0-12 5-8 3-24-3-4-8-2-4-9-4-2-12 2-12-2-16-1-16-4-12 1-16-1-32 1-4-1-1-2zM1156 414l-3 4 4 13 4 5 4 0 8-14-1-4-7-3zM1225 634l-1 4 1 3 4 4 4 2 5-1 3-4-3-4-5-5-4-2zM932 722l-7 2-12-1-4 3-2 4 0 8 2 2 12 4 4 1 4-1 4-5 7-13-3-4zM1365 798l-4 4 0 4 4 8 1 4 3 4 4-1 3-3 6-8 1-4-2-4-4-4-4-2zM1221 850l0 4 4 4 2-4-2-3zM908 1022l-4 4-1 4-1 4 2 4 9 2 4-1 4-5-1-4-2-4-5-5-4 0zM1086 1146l-5 2-2 2 1 8 1 2 4 3 8 0 4-3 1-2 1-4-1-4-5-5zM1037 1214l-3 4 1 4 2 2 6-2 3-4 1-4-2-2-4 0zM413 1013l8-1 12 1 36-2 4 1 4 2 2 4-1 4-5 5-12 5-8 0-8-2-8 0-16 4-8-3-5-5-1-8 2-3zM265 1136l4-1 4 2 4 4 4 10 8 8 3 3 4 12 4 8 1 4-4 11-2 13 0 4 2 3 4 1 8-3 4-1 4 1 3 3 2 4 1 20 2 6 4 5 4 1 12-1 4 1 8 4 2 4-18 4-8-3-4-1-4 7-2 17 1 16-1 12-83 0 0-8 3-16 0-20-2-5-4-6-12-5 0-4 4-3 8-3 2-6-1-8-1-3-4-3-16-4-4 1-4 5-1 4 1 12 2 12-5 20 2 12 0 28-47 0 0-103 16 1 4-2-3-8 0-28-4-20-1-4 2-4 6-4 4-2 4 0 16 4 8 3 3 3 0 4-9 16-1 8 3 8 3 4 5 2 4-1 16-5 12-6 8-6 2-4 1-4 2-12-1-12 1-4z"/><path fill="#c0dd68" d="M817 268l2-2 6 1 2 7-1 4-1 3-4 2-4-1-5-4 0-4zM1269 314l4-1 4 1 0 5-4 2-4-2-1-5zM805 370l4-1 4 5 1 4-1 5-4 1-4 0-4-2-2-4 1-4zM861 469l4-2 4 0 2 3-2 6-4 4-4 1-2-3-1-4zM913 473l4-1 7 2 1 4-3 4 0 4 1 12-2 4-5 4-1 8-2 4-8 3-1-3 3-8 1-4-8-12 5-2 2-2 2-4 0-8 2-4zM1413 502l8 0 0 18-12-14 1-4zM993 638l12-3 4 7 0 5-1 3-3 2-9-6-5-4 1-4zM1137 652l4 0 6 2 2 4-2 4-2 6-4 5-4 2-8 7-1 0-3-4 5-8 3-14zM1169 662l4 4 0 4-2 20-2 4-8 6-2-2 0-12-1-8 2-4 5-9zM985 664l4-1 7 3 0 4-2 4-5 4-4-1-2-3-1-4 1-4zM1229 714l20 16 4 0 4-3 4 2 4 5 0 5-11 15-5 12 0 2 4 1 4 2 1 3-1 2-4 4-4-1-1-1 0-4 0-4-3-2-8-1-4-1-12-8-3-4 5-16-3-16 1-4 4-3zM1101 737l4-1 6 2 2 4-1 4-3 2-4-1-4-3-1-2zM1361 854l12-2 4 2 4 4 3 8-1 4-2 3-4 0-8-6-13-5 0-4 1-3zM1225 938l8 0 7 4 2 4 2 8-3 4-20-1-2-3 0-8 2-4zM1109 1005l4-1 4 1 4 4 3 5 1 8 0 4-4 5-4 3-4 0-4-1-4-3-6-8 1-4zM1305 1010l12-2 12 2 20 11 2 5-10 12-8 6-8 0-12-3-12 1-8 3-12 7-4 0-16-1-20 5-9-2-7-3-7-13-1-4 3-8 5-6 8-3 8-2 16-2 8 1 12 5 4-1 8-5zM977 1073l3 5 1 5-12 3-4-1-1-3 2-4 7-4zM1353 1073l4 1 4 3 3 5-2 4-5 3-4 0-2-7-1-4 1-4zM1401 1081l4 1 6 4 2 4 0 4-2 4-10 6-2 2-1 4 1 12-1 8 1 16-2 4-4 4-8 3-4 0-8-9-24 1-20-4-5-3-1-4 1-4 5-11 4-5 8-1 16 4 8-3 8-6 2-10 2-3 12 0 4-3 4-12zM1057 1101l8-2 4 0 4 3 2 8-1 4-2 4-7 2-4-1-6-5-3-4 0-4zM1357 1169l4-2 8 0 4 3 8 13 4 4 4 1 8 0 12-2 4 0 8 5 0 24-24 2-20-4-4-3-4-15-4-5-4-2-8-2-4-1-12 2-4 0-4-5 1-4 3-5 4-1 12 0zM253 1210l4-2 4-1 4 0 4 3-2 4-6 4-4 4-4-6zM925 1244l4 0 2 2-2 4-4 0-3-4z"/></g></g><path d="M284,184 L322,194 L332,228 L350,258 L362,272 L340,272 L322,262 L310,250 L298,236 L290,222 L284,200Z" fill="#97b6e1"/><path d="M326,258 L333,256 L338,258 L343,262 L348,267 L352,272 L360,276 L366,284 L372,290 L380,298 L385.3,306 L392,316 L392.8,327.7 L385.3,336 L378.7,339.3 L372,345 L368,350 L357,332 L350,318 L343,303 L335,290 L326,277 L320,264Z" fill="#c0dd68"/><path d="M322,250 L335,257.5 L338.5,262.5 L337,267.5 L341,275 L346,280 L348.5,286.3 L347,291 L343,288 L338,280 L333,273 L328,266 L324,258Z" fill="#eae886"/><path d="M297.5,220 L301.2,217 L305.6,216 L308.8,220 L311.2,227.5 L316.2,230 L321.2,233.8 L325,238.8 L328.8,246.2 L330.5,252.5 L333,256.5 L328.5,256 L324,250.5 L319,244.5 L315,239.5 L310,236 L304,232 L299,227.5 L297,223Z" fill="#fdee99"/><path d="M351,291 L355,296 L356,302 L352,297Z" fill="#92d160"/><path d="M378,316 L384,318 L388,326 L382,324Z" fill="#92d160"/><use href="#coast" fill="none" stroke="#97b6e1" stroke-width="5" stroke-linejoin="round"/><path d="M269,220.3 L271,230 L277.5,235 L286.2,240 L295,248.8 L301.2,256.2 L302.5,265 L301.2,272.5 L295,271.2 L286.2,271.9 L281.9,271.2 L280,266 L279,258 L281,250 L276,243 L272,236 L267,226Z" fill="#97b6e1"/><path d="M281.9,271.2 L286.2,275 L293.8,280 L298.8,285 L308.8,291.2 L316.2,292.5 L318.8,288.8 L320,293.8 L326.2,300 L333.8,305 L337.5,312.5 L338.8,320 L336.2,327.5 L335,332.5 L342.5,338.8 L350,342.5 L357.5,348.8 L352,351 L344,346.5 L336,340.5 L329,332 L324,322 L317,312 L308,302 L299,293.5 L291,286 L284,279 L279,273Z" fill="#97b6e1"/><path d="M460,393.8 L456.2,386.2 L455,377.5 L450,370 L442.5,362.5 L436.2,355 L430,347.5 L422.5,340 L416.2,335 L413.8,330 L407.5,323.8 L397.5,317.5 L388.8,313.8 L386.2,308.8 L392.5,302.5 L387.5,296.2 L380,291.2 L375,285 L366.2,280 L361.2,284.5 L370,289.5 L375,295.8 L382.5,300.8 L387.5,307.0 L381.2,313.2 L383.8,318.2 L392.5,322.0 L402.5,328.2 L408.8,334.5 L411.2,339.5 L417.5,344.5 L425,352.0 L431.2,359.5 L437.5,367.0 L445,374.5 L450,382.0 L451.2,390.8 L455,398.2Z" fill="#97b6e1"/><path d="M645,500 L655,498.3 L665,501.7 L675,507.5 L685,516.7 L693.3,525 L710,538 L710,545 L693.3,535.5 L683.3,530 L676.7,521.7 L666.7,512 L656.7,504.5 L648,501.5Z" fill="#97b6e1"/><path d="M286.9,186.2 L295,190.6 L303.1,191.9 L305.6,190.6 L310,196.2 L319.4,200 L320,206.2 L322.5,213.8 L325.6,220 L327.5,226.2 L330,232.5 L333.8,239.4 L336.9,247.5 L341.9,251.2 L345,257.5 L350,261.2 L353.8,267.5 L366.9,270 L366.2,280 L361,277 L354,272 L348,266 L343,261 L338,255 L334,248 L330.5,241 L327,234 L322,228 L314,219.5 L308,214 L303,213 L298,215.5 L294,221 L293.1,223.8 L290.6,215 L288.8,205 L285.6,198.8Z" fill="#97b6e1"/><path d="M640,225 L720,225 L720,470 L655,470 L600,410 L590,330 L600,260Z" fill="#97b6e1"/><path d="M720,269.8 L705,269.8 L688.8,270.2 L685.7,272.6 L672.6,272.6 L671.4,270.6 L658.8,270.2 L643.8,271.4 L632.7,275.3 L627.2,280.1 L624,287.2 L624.2,306 L625.8,306 L625,316 L620,327.7 L613.3,339.3 L608.3,351 L606.7,362.7 L605,376 L608.3,384.3 L610,396 L615,406 L620,417.7 L626.7,429.3 L633.3,439.3 L641.7,447.7 L658.3,451.8 L675,448.5 L688.3,439.3 L700,429.3 L702.5,419.3 L697.5,406 L698.3,392.7 L705.5,386 L720,380Z" fill="#fdee99"/><rect x="84" y="136" width="142" height="2.1" fill="#97b6e1"/>
<use href="#landg"/>
<g stroke="#fff" fill="none" stroke-width="4.2"><path d="M158.5,147 Q162.5,142.5 169.3,139.2"/><path d="M176.3,184 L181.6,179.3"/><path d="M555.3,530.5 L555.3,540"/><path d="M690,281.6 Q697,280.4 706,281.4" stroke-width="4.6"/><path d="M473,536.6 L478,536.4" stroke-width="1.6"/><path d="M392.5,385.6 L396.5,385.6" stroke-width="1.4"/></g><rect x="206.8" y="169.8" width="2.3" height="3.3" fill="#b4c9ea"/><path d="M197.5,152 l3.5,2.4" stroke="#a9c1e6" stroke-width="1.6"/>
<use href="#mo" x="341.1" y="611" fill="#1f77b4"/><use href="#mp" x="670.8" y="555.4" fill="#5fa6d8"/><use href="#mo" x="482.8" y="492.4" fill="#8dc4ec"/><use href="#mh" x="660.3" y="319" fill="#c2e5fc"/><use href="#mp" x="359.6" y="592.2" fill="#ff7f0e"/><use href="#mo" x="631.2" y="542.3" fill="#ff9a3c"/><use href="#mh" x="391.2" y="529" fill="#ffb36b"/><use href="#mp" x="455" y="482.5" fill="#ffcb9c"/><use href="#mo" x="458" y="575.3" fill="#ffe1c6"/><use href="#mh" x="134.5" y="565.2" fill="#2ca02c"/><use href="#mp" x="240.7" y="297.8" fill="#48b848"/><use href="#mo" x="290.2" y="525.2" fill="#6bd06b"/><use href="#mh" x="269.5" y="293.2" fill="#93e793"/><use href="#mp" x="688" y="330.7" fill="#c0fcc0"/><use href="#mo" x="183.4" y="423.5" fill="#d62728"/><use href="#mh" x="193.2" y="244.2" fill="#e04848"/><use href="#mp" x="154" y="398.7" fill="#ea6e6e"/><use href="#mo" x="314.2" y="470.4" fill="#f59797"/><use href="#mh" x="154.5" y="254.5" fill="#fec4c4"/><use href="#mp" x="383.6" y="591.5" fill="#9467bd"/><use href="#mo" x="156.2" y="287.3" fill="#a67ccc"/><use href="#mh" x="313" y="581.5" fill="#ba94dd"/><use href="#mp" x="700" y="361.5" fill="#ceaeed"/><use href="#mo" x="669.5" y="409.3" fill="#e3c9fc"/><use href="#mh" x="96.5" y="354.3" fill="#8c564b"/><use href="#mp" x="688.8" y="416.5" fill="#a66e62"/><use href="#mo" x="660" y="301.2" fill="#c0887b"/><use href="#mh" x="614.5" y="390.2" fill="#dba497"/><use href="#mp" x="633.8" y="340.7" fill="#f8c9bc"/><use href="#mo" x="274" y="272" fill="#e377c2"/><use href="#mh" x="305.3" y="443.5" fill="#e98bcd"/><use href="#mp" x="174" y="293.7" fill="#f09fd9"/><use href="#mo" x="561.3" y="630.3" fill="#f7b4e5"/><use href="#mh" x="119.3" y="293.2" fill="#fdcbf0"/><use href="#mo" x="96.2" y="378.5" fill="#a09898"/><use href="#mp" x="111.5" y="550.5" fill="#e0c2bf"/><use href="#mo" x="245.3" y="448.3" fill="#ffd0cc"/><use href="#mh" x="545.3" y="511.4" fill="#bcbd22"/><use href="#mp" x="439.6" y="549.8" fill="#cdce4c"/><use href="#mt" x="709.0" y="280.6" fill="#1f77b4"/><use href="#mt" x="470.6" y="528.3" fill="#ff7f0e"/><use href="#mt" x="393.9" y="375.8" fill="#2ca02c"/><use href="#mt" x="554" y="546.9" fill="#d62728"/><use href="#mt" x="156.9" y="150.7" fill="#9467bd"/><use href="#mt" x="175.1" y="189.8" fill="#8c564b"/><use href="#mt" x="242.9" y="166.1" fill="#e377c2"/>
</g>
<path d="M210,137.15 L84.6,137.15 L84.6,652.0 L705.5,652.0 L705.5,136.65" fill="none" stroke="#000" stroke-width="1.1" stroke-linejoin="miter"/>
<path d="M211,136.70000000000002 L705.5,136.70000000000002" fill="none" stroke="#c3cbd6" stroke-width="0.9"/>
<g stroke="#000" fill="none"><path d="M84.4,137.15 v-3.1 M84.4,652.0 v3.1" stroke-width="1.6"/><path d="M102.66,137.15 v-8.9 M102.66,652.0 v8.9" stroke-width="2.8"/><path d="M120.92,137.15 v-3.1 M120.92,652.0 v3.1" stroke-width="1.6"/><path d="M139.19,137.15 v-3.1 M139.19,652.0 v3.1" stroke-width="1.6"/><path d="M157.45,137.15 v-3.1 M157.45,652.0 v3.1" stroke-width="1.6"/><path d="M175.71,137.15 v-3.1 M175.71,652.0 v3.1" stroke-width="1.6"/><path d="M193.97,137.15 v-8.9 M193.97,652.0 v8.9" stroke-width="2.8"/><path d="M212.23,137.15 v-3.1 M212.23,652.0 v3.1" stroke-width="1.6"/><path d="M230.49,137.15 v-3.1 M230.49,652.0 v3.1" stroke-width="1.6"/><path d="M248.76,137.15 v-3.1 M248.76,652.0 v3.1" stroke-width="1.6"/><path d="M267.02,137.15 v-3.1 M267.02,652.0 v3.1" stroke-width="1.6"/><path d="M285.28,137.15 v-8.9 M285.28,652.0 v8.9" stroke-width="2.8"/><path d="M303.54,137.15 v-3.1 M303.54,652.0 v3.1" stroke-width="1.6"/><path d="M321.8,137.15 v-3.1 M321.8,652.0 v3.1" stroke-width="1.6"/><path d="M340.06,137.15 v-3.1 M340.06,652.0 v3.1" stroke-width="1.6"/><path d="M358.33,137.15 v-3.1 M358.33,652.0 v3.1" stroke-width="1.6"/><path d="M376.59,137.15 v-8.9 M376.59,652.0 v8.9" stroke-width="2.8"/><path d="M394.85,137.15 v-3.1 M394.85,652.0 v3.1" stroke-width="1.6"/><path d="M413.11,137.15 v-3.1 M413.11,652.0 v3.1" stroke-width="1.6"/><path d="M431.37,137.15 v-3.1 M431.37,652.0 v3.1" stroke-width="1.6"/><path d="M449.64,137.15 v-3.1 M449.64,652.0 v3.1" stroke-width="1.6"/><path d="M467.9,137.15 v-8.9 M467.9,652.0 v8.9" stroke-width="2.8"/><path d="M486.16,137.15 v-3.1 M486.16,652.0 v3.1" stroke-width="1.6"/><path d="M504.42,137.15 v-3.1 M504.42,652.0 v3.1" stroke-width="1.6"/><path d="M522.68,137.15 v-3.1 M522.68,652.0 v3.1" stroke-width="1.6"/><path d="M540.94,137.15 v-3.1 M540.94,652.0 v3.1" stroke-width="1.6"/><path d="M559.21,137.15 v-8.9 M559.21,652.0 v8.9" stroke-width="2.8"/><path d="M577.47,137.15 v-3.1 M577.47,652.0 v3.1" stroke-width="1.6"/><path d="M595.73,137.15 v-3.1 M595.73,652.0 v3.1" stroke-width="1.6"/><path d="M613.99,137.15 v-3.1 M613.99,652.0 v3.1" stroke-width="1.6"/><path d="M632.25,137.15 v-3.1 M632.25,652.0 v3.1" stroke-width="1.6"/><path d="M650.51,137.15 v-8.9 M650.51,652.0 v8.9" stroke-width="2.8"/><path d="M668.78,137.15 v-3.1 M668.78,652.0 v3.1" stroke-width="1.6"/><path d="M687.04,137.15 v-3.1 M687.04,652.0 v3.1" stroke-width="1.6"/><path d="M705.3,137.15 v-3.1 M705.3,652.0 v3.1" stroke-width="1.6"/><path d="M84.6,652.0 h-3.1 M705.5,652.0 h3.1" stroke-width="1.6"/><path d="M84.6,633.66 h-3.1 M705.5,633.66 h3.1" stroke-width="1.6"/><path d="M84.6,615.26 h-8.9 M705.5,615.26 h8.9" stroke-width="2.8"/><path d="M84.6,596.81 h-3.1 M705.5,596.81 h3.1" stroke-width="1.6"/><path d="M84.6,578.29 h-3.1 M705.5,578.29 h3.1" stroke-width="1.6"/><path d="M84.6,559.71 h-3.1 M705.5,559.71 h3.1" stroke-width="1.6"/><path d="M84.6,541.04 h-3.1 M705.5,541.04 h3.1" stroke-width="1.6"/><path d="M84.6,522.3 h-8.9 M705.5,522.3 h8.9" stroke-width="2.8"/><path d="M84.6,503.47 h-3.1 M705.5,503.47 h3.1" stroke-width="1.6"/><path d="M84.6,484.54 h-3.1 M705.5,484.54 h3.1" stroke-width="1.6"/><path d="M84.6,465.51 h-3.1 M705.5,465.51 h3.1" stroke-width="1.6"/><path d="M84.6,446.36 h-3.1 M705.5,446.36 h3.1" stroke-width="1.6"/><path d="M84.6,427.11 h-8.9 M705.5,427.11 h8.9" stroke-width="2.8"/><path d="M84.6,407.72 h-3.1 M705.5,407.72 h3.1" stroke-width="1.6"/><path d="M84.6,388.21 h-3.1 M705.5,388.21 h3.1" stroke-width="1.6"/><path d="M84.6,368.56 h-3.1 M705.5,368.56 h3.1" stroke-width="1.6"/><path d="M84.6,348.76 h-3.1 M705.5,348.76 h3.1" stroke-width="1.6"/><path d="M84.6,328.8 h-8.9 M705.5,328.8 h8.9" stroke-width="2.8"/><path d="M84.6,308.67 h-3.1 M705.5,308.67 h3.1" stroke-width="1.6"/><path d="M84.6,288.38 h-3.1 M705.5,288.38 h3.1" stroke-width="1.6"/><path d="M84.6,267.9 h-3.1 M705.5,267.9 h3.1" stroke-width="1.6"/><path d="M84.6,247.23 h-3.1 M705.5,247.23 h3.1" stroke-width="1.6"/><path d="M84.6,226.35 h-8.9 M705.5,226.35 h8.9" stroke-width="2.8"/><path d="M84.6,205.26 h-3.1 M705.5,205.26 h3.1" stroke-width="1.6"/><path d="M84.6,183.95 h-3.1 M705.5,183.95 h3.1" stroke-width="1.6"/><path d="M84.6,162.4 h-3.1 M705.5,162.4 h3.1" stroke-width="1.6"/></g>
<text font-size="22.5" text-anchor="middle" transform="translate(100.4,702.8) rotate(-45)" y="8.2">125°W</text>
<text font-size="22.5" text-anchor="middle" transform="translate(191.7,702.8) rotate(-45)" y="8.2">120°W</text>
<text font-size="22.5" text-anchor="middle" transform="translate(283.0,702.8) rotate(-45)" y="8.2">115°W</text>
<text font-size="22.5" text-anchor="middle" transform="translate(374.3,702.8) rotate(-45)" y="8.2">110°W</text>
<text font-size="22.5" text-anchor="middle" transform="translate(465.6,702.8) rotate(-45)" y="8.2">105°W</text>
<text font-size="22.5" text-anchor="middle" transform="translate(556.9,702.8) rotate(-45)" y="8.2">100°W</text>
<text font-size="22.5" text-anchor="middle" transform="translate(648.2,697.1) rotate(-45)" y="8.2">95°W</text>
<text font-size="22.5" text-anchor="end" x="69.4" y="624.0">10°N</text>
<text font-size="22.5" text-anchor="end" x="69.4" y="531.0">15°N</text>
<text font-size="22.5" text-anchor="end" x="69.4" y="435.9">20°N</text>
<text font-size="22.5" text-anchor="end" x="69.4" y="337.5">25°N</text>
<text font-size="22.5" text-anchor="end" x="69.4" y="235.1">30°N</text>
</g>
<g transform="translate(730.0,0)">
<g clip-path="url(#axc)">
<rect x="84.6" y="137.15" width="620.9" height="514.85" fill="#97b6e1"/>
<clipPath id="dc1"><rect x="80" y="161.9" width="640" height="500"/></clipPath><g clip-path="url(#dc1)"><rect x="80" y="130" width="640" height="530" fill="#29186b"/><g transform="scale(0.5)" fill-rule="evenodd"><path fill="#291d83" d="M165 266l1256 0 0 1048-1260 0 0-549 12 2 12 9 20 3 8-2 12-8 20 1 8 1 5 3 11 16 24 15 4 1 4-1 4-7 6-16 2-4 9-8 2-4 1-4-2-8-5-8-17-13-4-1-16 3-12 0-8-2-12-5-12-1-5-5-3-8-3-16 0-12 1-8 5-16 5-7 8-6 8-2 3-5 0-8-3-12-4-3-16-5-32-33-8-3-4 0-4 2-4 19-4 3-16 1 0-204 8-3 20-12 4-6 1-4-1-7-1-5-3-4-4-3-8-2-16 1 0-88zM273 358l-8 2-4 2-5 16-3 3-8 3-4 2-4 7-4 13 0 4 1 4 3 2 4 0 7-2 5-2 6-6 6-12 3-4 9-5 8 0 16 6 8 1 4 0 4-2 2-4-2-4-4-6-6-14-6-6-8-1zM300 466l-11 2-8 4-5 6-1 4 2 6 4 2 4 0 8-4 10-12 2-4-4-4zM385 610l-6 4-4 24 7 4 11 2 4-1 3-5 1-4-1-16-3-4-8-4zM165 676l8 5 8 11 8 27 1 3-1 4-4 2-4-2-10-12-10-3 0-36z"/><path fill="#20309d" d="M189 266l52 0 4 5 4-1 2-4 1170 0 0 1048-1260 0 0-541 4 1 4 4 5 12 3 5 4 2 12 1 4 2 2 2 6 16 8 7 3 5 9 26 4 5 4 1 16 6 8 0 8-4 12-12 8-5 16-2 20 1 11-4 3-4-18-10-3-6 0-20 2-8 3-4 6-4 16-4 6-4 4-12 4-20 2-3 4-4 4-1 3 4-2 12 0 4 3 6 4 2 4 0 8-3 5-5 2-8 0-12 2-16-1-4-8-8-3-8-1-12 1-20 3-5 12-6 8-7 4-6 2-8-2-20-4-9-4-4-16-11-12-4-8-10-12-8-8-19-4-3-4 0-8-1-3 1-5 5-7 11-5 5-4 1-4-2-2-4-1-4 0-16-1-16 3-24 1-4 4-5 13-7 3-8 0-12-6-32-2-8-4-3-4 0-16 7-4 1-4-2-2-3-2-4 0-12 3-8 5-3 8 1 20 8 4-1 8-4 9-9 6-8 2-4-1-4-4-8-4-5-16-9-12-13-4-2-12-3-12-6-20 0-4 2-2 4-3 16-3 7-11 9-9 12-8 5-4-1-4-3-1-5-7-36-4-7-6-5-3-8-1-20zM416 690l-3 2-1 2 1 4 4 2 3-2 0-4-2-4zM249 429l8 0 4 1 5 4 2 4 1 4-1 8-2 4-5 8-4 3-8 2-4 2-7 17-5 7-4 3-4 1-8-1-4-3-3-7 0-20 1-4 2-3 4-2 12 1 4-1 4-5 5-18 3-3zM181 502l4 1 4 7 0 8-2 4-5 4-5 2-16-2 0-16zM277 621l16-2 8 1 4 2 16 11 4 0 12-3 4 1 2 3 2 6 11 50 1 12-2 8-2 4-12 8-8 8-4 3-4 0-8-4-4-4-3-7-2-20 1-32-3-8-5-2-24-3-4-2-2-5-2-8 1-8 3-6z"/><path fill="#104e96" d="M289 266l1132 0 0 1048-1260 0 0-481 8 0 4 2 12 15 4 1 12-4 4-1 4 1 4 5 8 14 24 15 4 2 8 1 11-2 5-1 4-4 6-11 4-4 6-2 24-2 25-12 4-4 0-4-1-4-4-3-12-5-6-8-2-4 0-8 4-8 4-4 4-2 12-2 20-5 28-3 4-3 2-5 3-12 0-28 3-13 4-5 12-1 4-1 3-4 1-4 0-8-4-12-8-10-8-6 0-4 8-13 6-15 1-8-3-11-16-19-8-6-8-8-12-6-18-18-2-4-8-32-1-8 2-8 7-11 3-13 5-9 4-11-2-24 5-28-3-44-4-8-4-1-12 0-4-2-8-7-19-10-13-9-5-3 8-8-2-4-13-5-3-3-2-4-1-8 1-32zM433 386l-3 4-1 8 1 12 2 8 5 9 4 4 8 4 4 0 4-4 2-9 1-8-3-12-4-8-4-4-8-3-4-1zM337 681l4 3 2 10-1 4-5 4-4 3-4 0-2-7 2-8 4-7z"/><path fill="#16638d" d="M345 267l4 0 4 3 4 6 4 10 1 8-1 12-7 12 2 8 0 4-3 7-4 2-12-4-6-5-1-4 2-8-5-8-1-4 2-12 5-13 4-6zM425 266l996 0 0 1048-1260 0 0-428 12-5 16-11 16-4 4 0 4 2 8 7 12 6 12 12 4 2 8 1 8 0 24-5 4-2 8-13 4-2 12-4 14-12 14-6 8-10 2-4-6-8-4-4-12-5-3-3-2-4 0-8 5-6 32-6 24-2 20 5 12 6 8 0 12-2 5-7 0-8-2-24-5-28-1-28-2-8-13-24-2-8 1-8 7-20 4-20 0-5-1-3-3-3-12-4-28-25-12-8-13-20-3-8-2-12 1-8 5-9 5-23 9-24 1-16-2-20 4-16 4-28 7-21 16 0 4 1 3 4 2 8 2 12-2 24 1 4 13 20 3 12 0 8-3 4-7 3-12 3-5 2-2 4-1 4 1 8 2 8 5 5 16 6 4 0 8-3 12-8 4-4 4-10 6-50 2-6 8-11 1-11-5-4-4-2-4-5-9-25-1-8 3-12-1-5-4-3-12-2-4-3-5-7-13-8 0-4 6-6 2-6-1-12-3-24zM443 830l-1 4 3 5 6-1 4-4-6-4-4-1z"/><path fill="#287689" d="M469 266l48 0-2 8-4 4-14 9-8 2-4-2-16-17-3-4zM529 266l9 0-1 3-4 2-2-1zM549 269l2-3 49 0 0 12-3 7-4 5 2 4 14 4 16 2 36-8 28-3 12-2 4-3 3-6 2-4 0-8 711 0 0 1048-1260 0 0-396 12-1 5-3 3-4 3-16 3-8 6-6 8-3 8 0 4 1 16 8 7 8 5 16 4 4 4 0 8-1 20-10 16-3 4-2 8-12 16-8 12-13 12-5 12-7 16-3 4-4 2-8-1-4-3-4-6-2-12-2-20-12-2-4 2-2 4-2 32-5 12-1 8 1 8 5 3 4 5 15 4 5 12 9 12 12 4 2 4 1 24-3 8-2 4-4 3-7 0-4-3-14-4-9-4-4-8-5-4-9-5-19-8-32-2-32-2-12-3-7-12-15-3-10 1-8 10-28 4-4 4 1 8 6 4 1 4-1 4-6 2-5 0-8-1-4-5-9-4-2-4 0-12 3-20-5-4-2-28-24-8-6-5-7-2-8-3-20 1-12 1-10 4-12 4-6 4-1 4 1 11 12 5 4 12 4 4 3 8 10 4 4 16 8 12 3 20 15 4 1 4-2 4-4 8-14 3-8 0-12-1-12-3-8-5-4-6-1-12 0-4-3-1-4-1-8 2-28 0-4 3-4 10-8 6-8 1-4 1-8-1-36 1-4 7-7 3-5 7-24 4-8-1-4-5-4-16 2-8-2-7-4-1-4 4-4 4-2 4 0 20 8 12-1 8 3 4-1 4-7-2-8 0-4 7-16 2-4z"/><path fill="#358988" d="M745 270l1-4 44 0-2 8-2 4 0 4 39 4 8-1 3-3 1-4-3-12 587 0 0 1048-1260 0 0-369 24 5 4 0 4-4-3-24 1-24 2-6 4-3 4-2 12 1 8 2 6 4 2 4 1 4-1 12 0 8 4 5 4 2 12 2 8-3 12-13 8-5 4-2 16-1 4-2 8-11 12-7 12-11 8-5 8-1 12 0 26-4 10-4 4-6 4-1 16 6 20 4 16-2 19-1 9-4 4-8 2-12-9-52-3-28-6-13-4-5-12-2-3-12-3-20-3-12-6-12-9-12-1-8 5-14 4-5 20 1 28-3 4-3 4-16 4-10 8-3 4-3 8-14 4-14 0-12-3-4-9-5-2-7 8-36 2-5 8-9 20-34 25-28 4-8-2-8-10-12-4-8-1-24-7-16-1-8 0-12 2-8 17-20 6-4 11 0 19 4 7 4 6 6 4 2 4 0 4-3 4-5 2-8 6-4 8-2 20 0 24-2 28-8 10-4 6-4 2-4zM381 514l8-2 8 1 16 4 4 2 3 3 5 14 7 10 3 8 3 24 0 4-3 4-6 2-8-1-12-8-8-5-16-16-5-8-3-18 0-10zM485 586l8 1 4 6 0 6-4 0-13-9 1-2zM377 810l12-1 4 1 3 4 1 8-4 12-4-2-8-11-9-7z"/><path fill="#409c85" d="M841 266l580 0 0 1048-1260 0 0-355 32 0 4-1 3-4 1-8-4-20 0-14 4-10 4-1 4 0 4 2 4 7 6 20 6 8 4 3 8 2 12 0 4-1 4-4 6-12 6-7 8-4 24 0 4 3 8 10 8 3 5-1 5-4 3-8 1-8-3-12 5-2 12 2 4-1 11-15 5-3 36-7 16 5 12 0 16-3 16-1 20-3 4-1 4-3 11-28-3-9-8-11-1-4-3-15-4-41-20-41-12-17-14-26-3-8 2-8 3-3 4-3 8-1 24 0 16 8 4-2 2-3 3-16 3-5 4-4 4-7 15-44 4-16 0-8-2-4-8-8-2-4 1-12 4-6 12-4 4 1 8 9 4 1 12-5 8-1 8 1 16 8 4-1 8-12 4-3 16-5 12-8 12-6 8-8 4-13 3-32-1-12 1-4 3-4 10-5 8-1 16 7 12 2 8-3 3-4 1-4-2-8-5-8-5-2-8-1-16 6-4 0-4-3-12-13-18-15-1-4 1-4 4-4 10-5 12-2 8 3 4 2 11 10 5 4 4 0 4-1 5-7 0-20 8-16 1-16 2-4 10-4 26-3 20-5 28 0 16-2 4-4 1-2 0-8-2-12zM393 525l8-1 8 1 4 1 3 4 7 28-1 4-5 6-4 2-8-1-5-3-7-8-5-12-2-12 1-4 2-3z"/><path fill="#4faf7d" d="M845 266l576 0 0 1048-1260 0 0-351 28 4 9-1 3-1 4-3 8-16 4 0 12 9 12 11 4 2 4-2 13-12 5-8 6-19 4-4 4-1 12 1 8 3 9 12 7 6 8 2 4 0 4-2 16-18 10-8 2-3 8-22 4-5 4-2 32-5 4 1 12 6 8 1 28-5 16-5 20-3 4-3 16-23 4-18 4-7 3-7 0-8-2-8-9-12-5-20-6-16 0-8 3-5 4-2 8-1 8 1 36 10 8 0 20-5 4 2 8 16 3 4 5 3 4 1 8 0 36-9 4-1 4-4 5-10 2-16-2-40-2-8-3-5-4-3-4-1-20 5-16 0-12 2-4 1-5-3 1-8 4-8 4-2 12 1 8 0 20-10 2-5-1-4-5-8-8-6-8-3-36 1-4 2-16 18-16 5-16 7-4 1-4-3-1-2-4-20-4-12 0-12 5-15 4-9 4-5 4-3 12-4 4-3 8-10 8-6 8-2 32 1 8-1 7-3 45-36 20-23 20-11 13-14 7-3 20-2 4-3 2-4 1-16 4-12 5-10 12-18 8-7 8-5 4-1 12 1 4-1 4-4 1-7-2-4-3-4-4-2-8-3-24 1-4-2-1-6 10-28 7-13 4-4 4-3 4-1 20-2 8-2 5-3 2-4 2-4 0-12-3-12zM304 970l-3 4 1 4 3 3 4 0 2-3-2-7-4-2zM401 541l4-2 4 0 2 3 2 6 0 6-2 4-2 2-4 1-4-3-2-4 0-8zM457 658l16-1 8 2 5 3 7 11 4 4 4 1 16-1 12-3 12 2 40 1 10 1 9 4 2 8-1 8-4 7-4 3-16 5-24 5-12-2-16-6-12-1-7 1-5 4-4 12-4 4-4 0-4-3-4-6-11-23-5-6-12-10-4-8-2-8 1-4 5-3z"/><path fill="#69c26f" d="M849 266l572 0 0 1048-1260 0 0-346 8 1 16 5 12 1 8-1 12-7 4 0 8 5 12 18 4 2 4 1 4-1 3-2 6-12 8-8 7-10 4-2 4 3 4 12 2 9 4 8 6 6 4 1 8 0 4-3 3-4 2-8 1-12 1-4 9-6 8-9 4-3 8-4 36-9 6-5 2-4 1-4-2-4-3-2-12-2-4-2-1-2-1-8 1-4 4-4 25-3 8 2 8 7 4 2 12-1 20-5 20-11 24-2 4-3 8-8 12-3 4-3 4-6 7-18 5-20 4-8 0-4-5-12-3-12 2-4 2 0 4-1 8 1 7 4 1 4 0 4-6 16 0 4 5 12 3 12 3 4 7 3 28 0 16 4 4-2 1-25 4-8 9-12 0-8 1-4 5-1 3 1 2 4-1 8 5 4 3 1 4-1 1-4 0-12 2-4 21-22 4-7 3-11 2-20-5-28 6-12 0-4-9-16-5-16-5-8-17-16-14-11-16-7-36-9-4 3-2 12-6 12-4 3-4 1-4-3-1-5 1-12 4-8 12-7 4-13 12-6 12-3 16-1 12 2 4 2 12 11 8 4 12 1 12-2 8-5 12-14 11-25 5-7 8-5 16-8 16-3 4-3 10-18 9-12 2-8-1-12 1-4 2-4 4-4 17-7 36-5 12 1 12 5 4 0 4-2 1-4 0-4-2-12-1-8 2-8 7-20 5-8 12-9 8-8 9-15 3-8 0-4-4-4-8-3-19-5-6-4-2-4-1-4 2-4 6-6 4-2 4 1 12 4 20 2 16 4 4 0 8-4 19-11 4-4 0-4-11-3-8 0-8 0-56 9-4-1-20-5-8 0-12 2-4-1-3-5-4-24zM235 1122l2 6 4 1 1-3-1-5-4-1zM194 1230l-5 2-3 2-1 4 1 4 3 6 4 3 8 3 4 0 3-4 0-4-3-9-4-5-4-2zM469 666l8 1 4 3 1 4-1 8-4 2-4-2-12-8-4-4 4-2z"/><path fill="#92d160" d="M853 266l244 0 1 4-1 4-4 4-13 8-4 4 5 3 16 2 8-1 4-2 8-6 2-4-2-4-5-4-2-4-1-4 312 0 0 1048-178 0 1-16 5-28-2-24 0-8 6-20 0-4-4-4-4 0-4 4-8 16-4 3-8 1-4 3-20 29-3 8 1 4 6 11 4 9 2 16-39 0-4-4-3-1-8-3-4 2-3 2-2 4-309 0-2-2-4 2-360 0-2-8-6-2-4 0-4 3-3 7-224 0 2-20-1-12-4-36-6-16-3-12-1-12 1-8 3-7 4-3 4 0 12 2 8-1 8 1 4-4 8-12 4-8 0-4-5-20-1-28-2-7-5-9-2-8-1-20-2-8-2-2-4-2-12-4-16-2-4-2-4-4-3-8 0-8 3-6 4-4 4-1 28-1 4 0 5 4 6 16 5 4 8 3 4 0 8-1 8-6 12-20 4-3 8-2 6-3 4-8 2-12 4-8 8-11 4-4 4-1 8 0 24 4 16-4 8 1 4 4 8 21 2 2 2 2 4 1 4-1 8-6 2-4 2-16 6-16 0-4-2-5-4-4-13-7-3-4-1-4 1-3 4-4 28-10 4-3 12-12 4-2 24 0 16-5 16 0 4-2 12-12 8-3 40-3 8 1 16 7 4 0 4-2 5-11 2-12 1-16 4-7 4-1 16 3 4-1 4-5 2-5 6-24 4-4 4-1 12 0 5-3 1-4-3-16 0-8 1-9 4-9 12-5 13-9 3-1 12-1 2-2 2-3-1-13-4-12-7-7-16-8-4-5-8-19-12-21-2-8 3-4 8-4 27-10 4 0 20 7 11-1 9-4 4-4 1-4 0-8-4-16 2-8 3-4 6-3 20-5 18-8 7-4 4-4 7-10 4-7 1-7 0-20 3-8 4-4 8-4 16-3 8-4 14-13 10-18 4-3 20-9 20-14 28-12 6-4 14-12 4-4 2-4 0-4-7-8-2-4 3-2 4-1 20 0 8-3 4-6 4-16 4-8 12-8 4-4 3-8 1-8-2-4-2-2-4-2-12-2-4 0-4 1-1 1 1 4-1 4-3 4-4 1-4-1-3-4 0-8-6-4-15-5-20-4-16 0-16 2-13 3-31 3-36-2-16 2-4-3-3-20zM777 778l-2 4 2 3 4 0 3-3 0-4-3-1zM850 778l0 4 3 4 4 3 4 1 4-4 0-4-3-4-5-3-4 0zM343 1110l-3 4-2 8 1 8 2 3 20 11 4 1 2-3 1-8-7-17-4-5-4-3-4-1-4 0zM769 1154l-4 4-1 4 1 4 3 4 5 4 4 0 4-1 4-2 4-5 2-8-2-4-4-2-8-1zM724 1166l-7 4-4 4-18 28-1 4 3 8 3 4 5 3 8 1 4 0 4-2 4-4 12-30 1-8-1-8-4-4-4-1zM1329 1178l-4 4 0 4 2 4 2 3 4 0 4-3 0-8-4-4zM936 1198l-3 4 0 20-8 24-1 16 1 4 3 4 4 4 5 3 8 1 5-4 2-8-2-32 0-24-1-5-4-6-4-2zM253 1210l0 8 4 15 4 5 4 3 16 3 24-3 6-3 2-4 1-4-1-4-6-4-18-4-16-1-7-3-9-4zM513 1250l-4 4-1 4 1 8 8 9 15 11 7 12 2 2 7-2 3-4 4-16-1-12-3-8-4-4-6-3-12-4-8 0zM590 1282l-3 4-1 4 1 4 14 15 4 0 1-7 4-12 0-4-1-4-4-3-4 0-4 0zM1038 1282l-1 9 4 15 4 8 4-28-1-4-3-2-4-1zM165 1248l4 1 5 5 7 24 3 4 5 3 12 0 4 2 3 3 4 12 1 12-52 0 0-67z"/><path fill="#c0dd68" d="M885 266l42 0 0 4-1 4-5 4-12 3-12 1-20-4-1-4 5-3zM1005 266l67 0-2 4-5 4-8 2-20 0-16 3-7-1-8-4-3-4 0-4zM1421 280l0 18-4-3-1-5 1-6zM1233 290l8 1 6 3 3 4-1 4-8 10-3 6 0 8 3 9 4 3 8 1 8-1 10-4 4-4 2-4 3-20 5-5 8-3 4 2 11 30 6 12 1 4-1 4-5 4-12 6-16 11-8 3-8 0-16-4-9-4-7-6-4-2-5 0-6 4-3 4-1 16-3 8-6 6-19 14-3 4-2 8 1 4 2 4 5 4 8 2 12-1 4 1 3 2 2 4-1 12 4 3 4 0 8-3 6-4 14-14 12-7 8-3 8 2 16 6 4 0 12-6 8-1 8 1 20 8 4-2 4-4 10-20 6-6 8-4 10-2 2-3 3-17 13-24 4-4 8-2 0 81-16 0-4 2-20 16-8 3-8-1-12-4-4 0-12 9-4 4-5 8-1 8 3 8 16 20 5 8 0 8-2 5-4 4-8 1-16-4-8-3-20-14-12-4-24 0-28 2-16-6-4 1-8 10-12 10-8 3-4-2-4-6-2-9 0-24-2-8-11-16-4-8 0-8 5-16-2-16 2-16-2-8-4-3-8 0-8 1-8 4-4 5-12 23-4 4-4 1-8-6-11-13-10-8-3-4-1-4 0-4 3-4 30-6 8-5 14-25 3-20 3-6 4-3 4-2 8-1 4 0 7 4 1 4-1 16 1 4 4 2 4-5 1-9 0-8-3-8 1-4 5-8 4-2 8-2 20 3 8 0zM1045 409l8-1 8 2 8 7 12 15 4 2 8 1 12-4 4 2 14 13 3 4 0 4-1 4-4 5-8 3-20-3-8 2-4 3-9 10-7 5-4 1-8-1-12-4-1-1 0-4 5-11 1-5-10-20-2-12 1-8 2-4 4-3zM945 465l8-2 4 1 12 6 8 2 8-1 12-5 6 0 3 4 0 12 2 4 9 9 1 3-3 20 1 8 4 4 5 3 8 0 24-6 8 1 7 6 2 4 2 8-2 8-7 24-1 8 2 16-3 4-4 0-12-5-12 0-8 4-20 13-12 4-8 0-16-6-4 2-1 4 2 16-1 8-4 4-26 20-10 4-20 3-12 3-20-1-8 2-6 5-9 12-5 13-4 2-16 1-4 3-8 15-4 5-4 1-28 6-4 2-3 4-5 12-4 5-8 4-8 3-8 1-8-2-4-3-2-4-1-8 1-4 6-8 4-2 4-1 12 0 8-2 4-7 2-8-2-12-9-32-3-4-15-8-3-4-2-8 3-8 8-4 21-1 20-6 20 0 8-2 8-3 20-14 8-10 11-24 18-28 7-6 12-6 14-16 4-8 3-8 1-20 1-4 17-20zM908 574l-3 1-4 2-1 5 1 5 10 15-1 16 1 4 2 2 4 0 5-2 4-4 1-4-1-12 5-16-1-4-5-4-12-3zM1389 509l4 1 3 4-1 4-6 16-4 6-4 1-3-3-1-4 1-4 5-16 2-3zM1337 557l4 1 5 4 2 4 2 8 0 4-2 4-6 4-5 1-4 0-4-3-3-6 0-4 1-8 2-4 4-4zM1149 582l4-2 4 1 3 5 4 12 1 15 4 4 12 1 17-4 11 0 20 3 4 1 7 4 7 12 12 12 3 4 1 4 2 24 4 11 4 5 4 3 21 9 11 3 8 1 24-3 20-1 8-4 17-12 3-4 4-14 4-4 4 0 8 5 5 5 0 4-1 4-13 12-3 8 0 8 1 8 5 8 6 4 12 5 0 89-4-2-4-6-8-21-6-13 0-8 6-12-1-4-3-1-4 0-12 6-8 2-12-1-16-3-4 0-4 2-4 4-11 15-3 8-1 8-1 2-5-2-7-7-13-25-4-12-1-20-2-4-4-4-8-3-20-1-16 4-8 0-9-4-19-15-8-2-4 0-16 10-8 2-1 1 0 4 1 4 10 12 0 4-1 4-5 9-2 7 1 4 4 4 25 5 8 4 12 8 8 3 8-1 12-10 4-2 4 1 16 6 8 5 6 5 3 8-3 20-1 16-3 12 2 6 4 0 7-14 3-4 30-17 32-14 4 0 2 3 1 4-1 12-2 10-13 26-4 4-7 6-12 6-20 8-4 4-6 12-10 11-12 17-24 20-2 4-7 20-20 32-7 6-8 2-12 1-32-2-8-2-11-5-5-4-2-4 2-16-3-12-5-8-4-4-4-2-4 1-16 9-8 3-8 1-8-2-12-8-8-12-15-18-4-8-1-12 0-12 2-8 3-4 7-6 4-2 12 0 8-3 8-6 6-11 3-12-1-8-4-20 0-16 1-8 5-8 18-16 7-8 3-8-1-4-3-4-6-4-8-2-8 1-12 3-20 1-8 0-12-4-8 0-6 1-6 4-8 11-4 3-4-2-8-12-5-12-7-19-8-10-2-7 2-5 4-3 4 0 16 7 28 0 8 2 32 17 8 1 4-2 4-4 5-9 2-12 0-20 2-8 4-4 7-4 12-3 4 1 3 6-2 20 2 8 3 4 10 8 16 10 4 2 4 0 4-12 4-6 12-9 4-6 8-19 1-8-2-4-3-3-4-2-8 0-12 1-4-1-4-3-2-8 1-16-15-10-4-6 1-8 3-7zM1212 910l-9 8-4 8-3 8 2 4 7 5 12 4 16 0 8-4 3-5 0-8-3-8-4-8-8-6-4-1-8 1zM1162 922l-2 4 0 8 2 4 4 4 7 3 4 0 7-3 3-4 1-4-3-4-8-7-8-3-4 1zM1409 633l4-1 8 0 0 18-12 2-5-2-1-4 0-4 2-5zM1289 641l4 3 1 2 1 4-2 4-4-2-4-6 2-4zM1329 649l4-1 8 3 8 7 3 4 0 4-6 4-5 1-11-5-3-4-2-4 1-4zM753 806l4 0 22 4 7 4-4 8 0 4 2 20 2 4 12 8 4 4 1 4-1 4-11 12-3 8-1 12 2 7 4 6 4 1 4 0 8-4 4-5 3-5 4-16 3-4 10-5 12-4 8 2 20 10 8 0 12-3 4 0 4 2 6 6 7 16 3 3 8 0 4 3 3 10 1 16-1 8-3 8-12-12-4 0-4 2-5 6-1 4 1 4 9 14 4 3 4 1 4-3 4-5 4-1 12 15 8 7 36 6 3 3 0 4 2 16 3 5 4 2 20 0 4 1 4 2 6 10 1 8 0 32-2 8-5 13-3 11-3 4-6 3-32 1-20 8-8 0-24-10-16-2-6-4-6-7-12-4-4-4-3-5-2-8 1-20 4-10 8-8 4-6 2-8-1-8-5-4-8 1-16 8-8 1-8-2-4-4-3-4-3-12 0-4 2-6 4-3 12-1 3-2 3-4 1-8-1-12-5-16-9-11-4-3-4-1-4 0-4 2-4 5-2 4 0 8-2 6-10 10-10 7-8 12-4 4-11 5-3 4-2 8-8 12-1 4-1 16 0 4-3 4-3 2-4 0-4-1-4-4-7-13-4-12-2-8 1-8 5-8 7-7 4-3 4 0 12 4 4-2 2-40 0-4-2-4-12-7-2-5-1-24-4-20 1-8 2-4 11-8 2-4-2-4-11-3-4-3-3-6-2-20-3-4-5-4-1-4 2-5zM935 1022l-3 4-2 8 1 8 2 4 4 3 4 1 4-1 24-8 5-3 2-4-1-4-2-3-4-2-24-4-8 0zM901 814l8-1 8 3 18 14 2 4-2 4-12 8-14 6-8 1-6-3-10-12-1-4 1-4 6-8zM681 817l4-3 6 8 3 8 0 4-5 24 2 8 2 3 4 0 16-5 8 1 16 7 6 6 2 8-1 40-3 16-4 6-8 5-4 6-4 11-2 16-3 8-3 4-8 4-12 3-8-1-20-8-16-1-8-3-4-3-4-5-5-14-2-8 0-4 3-4 20-15 16-9 4-6 1-6 1-12-1-8-2-8-3-4-4-4-12-5-2-3-1-4 3-6 4-2 12-3 4-4 4-9 4-18zM709 818l8-3 4 1 4 2 3 4 1 4-1 8-3 9-4 3-4 1-4-2-8-6-3-5-1-4 1-4 2-4zM1361 869l8-2 7 3 5 8 4 14 4 3 16 0 4 1 12 6 0 59-4-1-4 0-1 6 1 4 4 3 4 0 0 286-12 3-4-2-3-14-5-5-6 1-5 4-2 4 2 4 4 8 2 8-1 8-9 16-1 8-1 12-130 0 3-16 6-12 1-8 0-8-4-20-1-8 9-40 5-3 8 0 36 3 6 4 10 13 8 3 4-1 4-9 4-22-1-12-4-28-3-6-2-2-6-1-3 1-5 7-8 17-4 3-5 1-7-2-4-6 0-4 8-20 2-8 0-8-2-5-4-3-12-1-4-2-8-12-12-3-12-5-4 1-4 5-5 9-3 4-4 3-4 1-8-2-8-5-4-6-3-7-4-16 1-12 6-14 4-3 4-2 4 0 4 2 6 5 2 5 4 0 2-17 2-5 4-4 8-3 4-4 11-16 9-16 22-24 10-20 16-20 14-12 4-8 5-20 5-12 2-4zM1385 914l-6 8-2 9 1 3 3 4 8 1 8-3 4-3 4-7 0-4-4-5-8-6-4 0zM1357 1242l-4 4 0 4 4 12 4 5 4 2 4-1 4-5 2-5 1-4-1-4-4-4-6-3-4-1zM605 892l4 0 8 1 8 3 4 3 2 3 1 8-2 4-5 5-8 4-4 1-4 0-12-3-11 13-5 5-4 2-8 0-24-4-36 5-12-1-4 1-3 4 0 4 3 7 12 10 2 11-2 8-24 17-4 2-4 0-4-3-4-5-4-7-3-8 3-24-5-28 1-4 3-4 9-8 4-3 4-2 4 2 12 17 4-2 8-8 8-4 16 1 8 0 24-7 12-1 8 1 12 4 5-14 4-4zM1009 947l4 0 8 6 4 0 3 5-3 3-4-2-8 2-4-1-3-6 0-4zM1033 976l4-2 4 1 4 5 2 6-3 8-6 12-5 6-4-5 0-5zM353 986l20 5 24 2 4 1 4 4 1 4 0 8-1 4-4 7-8 6-4 2-12 3-4 2-8 11-8 7-4 5-12 23-16 19-4-4-1-5-3-28 1-12 3-8 8-7 12-21 4-8 1-12 1-4 2-3zM525 990l12-1 20 3 4 2 2 4 3 12 9 16 2 8 0 8-1 4-3 5-4 2-4 1-4-1-4-3-6-8-6-14-4-4-12-4-4-3-5-11-2-8 1-4 2-2zM1085 1009l4 1 12 9 12 3 13 8 7 1 20-4 8-1 8 2 4 2 2 4-2 4-9 4-8 12-11 11-12 21-4 16-4 8-4 5-8 3-8 1-4-2-4-3-6-8-13-24-3-12-3-4-15-8-4-8 0-4 1-8 7-12 4-4 8-4 8-7zM481 1025l4-1 4 1 12 9 2 4 1 4-3 6-4 1-4-1-7-6-5-9-1-7zM705 1031l4 2 3 5 2 12 0 20-1 4-4 4-4 0-11-4-3-4 0-4 7-12 3-18zM637 1101l4-1 5 2 3 4 3 8 1 8-1 8-3 5-4 4-4 0-8-2-4-3-5-8 0-8 3-8 6-7zM1057 1109l4-1 4 0 4 4 6 10 1 8 0 8-2 4-5 4-4 1-4-1-4-4-4-8-2-8 0-8 2-5zM497 1113l4-2 4 0 4 4 7 11 1 4 0 4-4 4-16 4-16 10-8 2-8-1-2-3 1-4 11-20 6-5zM849 1142l12 3 7 5 3 4 0 4-2 5-4 3-4-1-8-4-7-7-3-4 0-4 2-3zM961 1145l4 3 8 12 4 3 32 1 24 5 16 1 4 1 2 3 1 4-1 12 1 8 5 6 12 6 3 4 0 4-3 7-9 9-5 16-3 4-7 3-16-1-12 5-8-2-4 1-4 5-2 9-3 4-3 2-4-1-5-13-2-4-13-5-2-3-3-4-2-8-1-20 1-12 5-12 1-4-1-16-2-5-10-7-3-4-1-4 0-8 2-3zM1089 1149l8-2 12 2 6 1 6 4 3 4-2 4-9 4-12 2-8 0-4-2-4-4-1-4 1-5zM1229 1170l8-1 4 1 8 4 7 8 2 8-5 4-8 2-16 9-12 2-4 5-8 15-4 3-8 4-5 4-4 12-4 36-3 5-4 0-4-2-2-3-7-16-5-8-1-4 1-8 4-8 6-6 13-6 2-4 2-20 8-16 4-16 3-2 16 3zM617 1194l4-2 4 1 4 3 3 6 1 4-1 8-3 7-4 4-4 0-4-1-4-6-1-12 2-8zM885 1202l4-2 8 1 10 5 9 8 2 4-1 8-4 11-4 6-8-5-4 0-12 1-4-1-4-4-1-4 4-16 2-8zM429 1229l6 1 6 4 2 4 0 4-2 2-4 0-4-4-4-6-1-4zM685 1257l8-3 4 1 16 8 24 1 4 3 8 9 16 7 4 3 1 4-2 24-65 0-2-8-4-5-4-2-24 0-8-3-4-6-5-16-1-8 2-5 20 2zM297 1277l4 4 1 5 6 8 9 8 8 4 16-1 4 1 5 4 2 4-94 0 3-5 6-3 6-1 12 3 2-2 3-4zM905 1286l8 4 12 14 11 6 4 4-28 0-11-12-3-8 0-4 3-4zM1073 1297l8-1 4 0 4 1 4 5 2 12-30 0 0-8 2-4 2-2z"/></g></g><path d="M284,184 L322,194 L332,228 L350,258 L362,272 L340,272 L322,262 L310,250 L298,236 L290,222 L284,200Z" fill="#97b6e1"/><path d="M326,258 L333,256 L338,258 L343,262 L348,267 L352,272 L360,276 L366,284 L372,290 L380,298 L385.3,306 L398,325 L400,338 L392,345 L380,352 L368,350 L357,332 L350,318 L343,303 L335,290 L326,277 L320,264Z" fill="#c0dd68"/><path d="M322,250 L335,257.5 L338.5,262.5 L337,267.5 L341,275 L346,280 L348.5,286.3 L347,291 L343,288 L338,280 L333,273 L328,266 L324,258Z" fill="#eae886"/><path d="M297.5,220 L301.2,217 L305.6,216 L308.8,220 L311.2,227.5 L316.2,230 L321.2,233.8 L325,238.8 L328.8,246.2 L330.5,252.5 L333,256.5 L328.5,256 L324,250.5 L319,244.5 L315,239.5 L310,236 L304,232 L299,227.5 L297,223Z" fill="#fdee99"/><use href="#coast" fill="none" stroke="#97b6e1" stroke-width="5" stroke-linejoin="round"/><path d="M269,220.3 L271,230 L277.5,235 L286.2,240 L295,248.8 L301.2,256.2 L302.5,265 L301.2,272.5 L295,271.2 L286.2,271.9 L281.9,271.2 L280,266 L279,258 L281,250 L276,243 L272,236 L267,226Z" fill="#97b6e1"/><path d="M281.9,271.2 L286.2,275 L293.8,280 L298.8,285 L308.8,291.2 L316.2,292.5 L318.8,288.8 L320,293.8 L326.2,300 L333.8,305 L337.5,312.5 L338.8,320 L336.2,327.5 L335,332.5 L342.5,338.8 L350,342.5 L357.5,348.8 L352,351 L344,346.5 L336,340.5 L329,332 L324,322 L317,312 L308,302 L299,293.5 L291,286 L284,279 L279,273Z" fill="#97b6e1"/><path d="M460,393.8 L456.2,386.2 L455,377.5 L450,370 L442.5,362.5 L436.2,355 L430,347.5 L422.5,340 L416.2,335 L413.8,330 L407.5,323.8 L397.5,317.5 L388.8,313.8 L386.2,308.8 L392.5,302.5 L387.5,296.2 L380,291.2 L375,285 L366.2,280 L361.2,284.5 L370,289.5 L375,295.8 L382.5,300.8 L387.5,307.0 L381.2,313.2 L383.8,318.2 L392.5,322.0 L402.5,328.2 L408.8,334.5 L411.2,339.5 L417.5,344.5 L425,352.0 L431.2,359.5 L437.5,367.0 L445,374.5 L450,382.0 L451.2,390.8 L455,398.2Z" fill="#97b6e1"/><path d="M645,500 L655,498.3 L665,501.7 L675,507.5 L685,516.7 L693.3,525 L710,538 L710,545 L693.3,535.5 L683.3,530 L676.7,521.7 L666.7,512 L656.7,504.5 L648,501.5Z" fill="#97b6e1"/><path d="M286.9,186.2 L295,190.6 L303.1,191.9 L305.6,190.6 L310,196.2 L319.4,200 L320,206.2 L322.5,213.8 L325.6,220 L327.5,226.2 L330,232.5 L333.8,239.4 L336.9,247.5 L341.9,251.2 L345,257.5 L350,261.2 L353.8,267.5 L366.9,270 L366.2,280 L361,277 L354,272 L348,266 L343,261 L338,255 L334,248 L330.5,241 L327,234 L322,228 L314,219.5 L308,214 L303,213 L298,215.5 L294,221 L293.1,223.8 L290.6,215 L288.8,205 L285.6,198.8Z" fill="#97b6e1"/><path d="M640,225 L720,225 L720,470 L655,470 L600,410 L590,330 L600,260Z" fill="#97b6e1"/><path d="M720,269.8 L705,269.8 L688.8,270.2 L685.7,272.6 L672.6,272.6 L671.4,270.6 L658.8,270.2 L643.8,271.4 L632.7,275.3 L627.2,280.1 L624,287.2 L624.2,306 L625.8,306 L625,316 L620,327.7 L613.3,339.3 L608.3,351 L606.7,362.7 L605,376 L608.3,384.3 L610,396 L615,406 L620,417.7 L626.7,429.3 L633.3,439.3 L641.7,447.7 L658.3,451.8 L675,448.5 L688.3,439.3 L700,429.3 L702.5,419.3 L697.5,406 L698.3,392.7 L705.5,386 L720,380Z" fill="#fdee99"/>
<use href="#landg"/>
<g stroke="#fff" fill="none" stroke-width="4.2"><path d="M158.5,147 Q162.5,142.5 169.3,139.2"/><path d="M176.3,184 L181.6,179.3"/><path d="M555.3,530.5 L555.3,540"/><path d="M690,281.6 Q697,280.4 706,281.4" stroke-width="4.6"/><path d="M473,536.6 L478,536.4" stroke-width="1.6"/><path d="M392.5,385.6 L396.5,385.6" stroke-width="1.4"/></g><rect x="206.8" y="169.8" width="2.3" height="3.3" fill="#b4c9ea"/><path d="M197.5,152 l3.5,2.4" stroke="#a9c1e6" stroke-width="1.6"/>
<use href="#mo" x="341.1" y="611" fill="#1f77b4"/><use href="#mp" x="670.8" y="555.4" fill="#5fa6d8"/><use href="#mo" x="482.8" y="492.4" fill="#8dc4ec"/><use href="#mh" x="660.3" y="319" fill="#c2e5fc"/><use href="#mp" x="359.6" y="592.2" fill="#ff7f0e"/><use href="#mo" x="631.2" y="542.3" fill="#ff9a3c"/><use href="#mh" x="391.2" y="529" fill="#ffb36b"/><use href="#mp" x="455" y="482.5" fill="#ffcb9c"/><use href="#mo" x="458" y="575.3" fill="#ffe1c6"/><use href="#mh" x="134.5" y="565.2" fill="#2ca02c"/><use href="#mp" x="240.7" y="297.8" fill="#48b848"/><use href="#mo" x="290.2" y="525.2" fill="#6bd06b"/><use href="#mh" x="269.5" y="293.2" fill="#93e793"/><use href="#mp" x="688" y="330.7" fill="#c0fcc0"/><use href="#mo" x="183.4" y="423.5" fill="#d62728"/><use href="#mh" x="193.2" y="244.2" fill="#e04848"/><use href="#mp" x="154" y="398.7" fill="#ea6e6e"/><use href="#mo" x="314.2" y="470.4" fill="#f59797"/><use href="#mh" x="154.5" y="254.5" fill="#fec4c4"/><use href="#mp" x="383.6" y="591.5" fill="#9467bd"/><use href="#mo" x="156.2" y="287.3" fill="#a67ccc"/><use href="#mh" x="313" y="581.5" fill="#ba94dd"/><use href="#mp" x="700" y="361.5" fill="#ceaeed"/><use href="#mo" x="669.5" y="409.3" fill="#e3c9fc"/><use href="#mh" x="96.5" y="354.3" fill="#8c564b"/><use href="#mp" x="688.8" y="416.5" fill="#a66e62"/><use href="#mo" x="660" y="301.2" fill="#c0887b"/><use href="#mh" x="614.5" y="390.2" fill="#dba497"/><use href="#mp" x="633.8" y="340.7" fill="#f8c9bc"/><use href="#mo" x="274" y="272" fill="#e377c2"/><use href="#mh" x="305.3" y="443.5" fill="#e98bcd"/><use href="#mp" x="174" y="293.7" fill="#f09fd9"/><use href="#mo" x="561.3" y="630.3" fill="#f7b4e5"/><use href="#mh" x="119.3" y="293.2" fill="#fdcbf0"/><use href="#mo" x="96.2" y="378.5" fill="#a09898"/><use href="#mp" x="111.5" y="550.5" fill="#e0c2bf"/><use href="#mo" x="245.3" y="448.3" fill="#ffd0cc"/><use href="#mh" x="545.3" y="511.4" fill="#bcbd22"/><use href="#mp" x="439.6" y="549.8" fill="#cdce4c"/><use href="#mt" x="709.0" y="280.6" fill="#1f77b4"/><use href="#mt" x="470.6" y="528.3" fill="#ff7f0e"/><use href="#mt" x="393.9" y="375.8" fill="#2ca02c"/><use href="#mt" x="554" y="546.9" fill="#d62728"/><use href="#mt" x="156.9" y="150.7" fill="#9467bd"/><use href="#mt" x="175.1" y="189.8" fill="#8c564b"/><use href="#mt" x="242.9" y="166.1" fill="#e377c2"/>
</g>
<path d="M210,137.15 L84.6,137.15 L84.6,652.0 L705.5,652.0 L705.5,136.65" fill="none" stroke="#000" stroke-width="1.1" stroke-linejoin="miter"/>
<path d="M211,136.70000000000002 L705.5,136.70000000000002" fill="none" stroke="#c3cbd6" stroke-width="0.9"/>
<g stroke="#000" fill="none"><path d="M84.4,137.15 v-3.1 M84.4,652.0 v3.1" stroke-width="1.6"/><path d="M102.66,137.15 v-8.9 M102.66,652.0 v8.9" stroke-width="2.8"/><path d="M120.92,137.15 v-3.1 M120.92,652.0 v3.1" stroke-width="1.6"/><path d="M139.19,137.15 v-3.1 M139.19,652.0 v3.1" stroke-width="1.6"/><path d="M157.45,137.15 v-3.1 M157.45,652.0 v3.1" stroke-width="1.6"/><path d="M175.71,137.15 v-3.1 M175.71,652.0 v3.1" stroke-width="1.6"/><path d="M193.97,137.15 v-8.9 M193.97,652.0 v8.9" stroke-width="2.8"/><path d="M212.23,137.15 v-3.1 M212.23,652.0 v3.1" stroke-width="1.6"/><path d="M230.49,137.15 v-3.1 M230.49,652.0 v3.1" stroke-width="1.6"/><path d="M248.76,137.15 v-3.1 M248.76,652.0 v3.1" stroke-width="1.6"/><path d="M267.02,137.15 v-3.1 M267.02,652.0 v3.1" stroke-width="1.6"/><path d="M285.28,137.15 v-8.9 M285.28,652.0 v8.9" stroke-width="2.8"/><path d="M303.54,137.15 v-3.1 M303.54,652.0 v3.1" stroke-width="1.6"/><path d="M321.8,137.15 v-3.1 M321.8,652.0 v3.1" stroke-width="1.6"/><path d="M340.06,137.15 v-3.1 M340.06,652.0 v3.1" stroke-width="1.6"/><path d="M358.33,137.15 v-3.1 M358.33,652.0 v3.1" stroke-width="1.6"/><path d="M376.59,137.15 v-8.9 M376.59,652.0 v8.9" stroke-width="2.8"/><path d="M394.85,137.15 v-3.1 M394.85,652.0 v3.1" stroke-width="1.6"/><path d="M413.11,137.15 v-3.1 M413.11,652.0 v3.1" stroke-width="1.6"/><path d="M431.37,137.15 v-3.1 M431.37,652.0 v3.1" stroke-width="1.6"/><path d="M449.64,137.15 v-3.1 M449.64,652.0 v3.1" stroke-width="1.6"/><path d="M467.9,137.15 v-8.9 M467.9,652.0 v8.9" stroke-width="2.8"/><path d="M486.16,137.15 v-3.1 M486.16,652.0 v3.1" stroke-width="1.6"/><path d="M504.42,137.15 v-3.1 M504.42,652.0 v3.1" stroke-width="1.6"/><path d="M522.68,137.15 v-3.1 M522.68,652.0 v3.1" stroke-width="1.6"/><path d="M540.94,137.15 v-3.1 M540.94,652.0 v3.1" stroke-width="1.6"/><path d="M559.21,137.15 v-8.9 M559.21,652.0 v8.9" stroke-width="2.8"/><path d="M577.47,137.15 v-3.1 M577.47,652.0 v3.1" stroke-width="1.6"/><path d="M595.73,137.15 v-3.1 M595.73,652.0 v3.1" stroke-width="1.6"/><path d="M613.99,137.15 v-3.1 M613.99,652.0 v3.1" stroke-width="1.6"/><path d="M632.25,137.15 v-3.1 M632.25,652.0 v3.1" stroke-width="1.6"/><path d="M650.51,137.15 v-8.9 M650.51,652.0 v8.9" stroke-width="2.8"/><path d="M668.78,137.15 v-3.1 M668.78,652.0 v3.1" stroke-width="1.6"/><path d="M687.04,137.15 v-3.1 M687.04,652.0 v3.1" stroke-width="1.6"/><path d="M705.3,137.15 v-3.1 M705.3,652.0 v3.1" stroke-width="1.6"/><path d="M84.6,652.0 h-3.1 M705.5,652.0 h3.1" stroke-width="1.6"/><path d="M84.6,633.66 h-3.1 M705.5,633.66 h3.1" stroke-width="1.6"/><path d="M84.6,615.26 h-8.9 M705.5,615.26 h8.9" stroke-width="2.8"/><path d="M84.6,596.81 h-3.1 M705.5,596.81 h3.1" stroke-width="1.6"/><path d="M84.6,578.29 h-3.1 M705.5,578.29 h3.1" stroke-width="1.6"/><path d="M84.6,559.71 h-3.1 M705.5,559.71 h3.1" stroke-width="1.6"/><path d="M84.6,541.04 h-3.1 M705.5,541.04 h3.1" stroke-width="1.6"/><path d="M84.6,522.3 h-8.9 M705.5,522.3 h8.9" stroke-width="2.8"/><path d="M84.6,503.47 h-3.1 M705.5,503.47 h3.1" stroke-width="1.6"/><path d="M84.6,484.54 h-3.1 M705.5,484.54 h3.1" stroke-width="1.6"/><path d="M84.6,465.51 h-3.1 M705.5,465.51 h3.1" stroke-width="1.6"/><path d="M84.6,446.36 h-3.1 M705.5,446.36 h3.1" stroke-width="1.6"/><path d="M84.6,427.11 h-8.9 M705.5,427.11 h8.9" stroke-width="2.8"/><path d="M84.6,407.72 h-3.1 M705.5,407.72 h3.1" stroke-width="1.6"/><path d="M84.6,388.21 h-3.1 M705.5,388.21 h3.1" stroke-width="1.6"/><path d="M84.6,368.56 h-3.1 M705.5,368.56 h3.1" stroke-width="1.6"/><path d="M84.6,348.76 h-3.1 M705.5,348.76 h3.1" stroke-width="1.6"/><path d="M84.6,328.8 h-8.9 M705.5,328.8 h8.9" stroke-width="2.8"/><path d="M84.6,308.67 h-3.1 M705.5,308.67 h3.1" stroke-width="1.6"/><path d="M84.6,288.38 h-3.1 M705.5,288.38 h3.1" stroke-width="1.6"/><path d="M84.6,267.9 h-3.1 M705.5,267.9 h3.1" stroke-width="1.6"/><path d="M84.6,247.23 h-3.1 M705.5,247.23 h3.1" stroke-width="1.6"/><path d="M84.6,226.35 h-8.9 M705.5,226.35 h8.9" stroke-width="2.8"/><path d="M84.6,205.26 h-3.1 M705.5,205.26 h3.1" stroke-width="1.6"/><path d="M84.6,183.95 h-3.1 M705.5,183.95 h3.1" stroke-width="1.6"/><path d="M84.6,162.4 h-3.1 M705.5,162.4 h3.1" stroke-width="1.6"/></g>
<text font-size="22.5" text-anchor="middle" transform="translate(100.4,702.8) rotate(-45)" y="8.2">125°W</text>
<text font-size="22.5" text-anchor="middle" transform="translate(191.7,702.8) rotate(-45)" y="8.2">120°W</text>
<text font-size="22.5" text-anchor="middle" transform="translate(283.0,702.8) rotate(-45)" y="8.2">115°W</text>
<text font-size="22.5" text-anchor="middle" transform="translate(374.3,702.8) rotate(-45)" y="8.2">110°W</text>
<text font-size="22.5" text-anchor="middle" transform="translate(465.6,702.8) rotate(-45)" y="8.2">105°W</text>
<text font-size="22.5" text-anchor="middle" transform="translate(556.9,702.8) rotate(-45)" y="8.2">100°W</text>
<text font-size="22.5" text-anchor="middle" transform="translate(648.2,697.1) rotate(-45)" y="8.2">95°W</text>
<text font-size="22.5" text-anchor="start" x="719.6" y="624.0">10°N</text>
<text font-size="22.5" text-anchor="start" x="719.6" y="531.0">15°N</text>
<text font-size="22.5" text-anchor="start" x="719.6" y="435.9">20°N</text>
<text font-size="22.5" text-anchor="start" x="719.6" y="337.5">25°N</text>
<text font-size="22.5" text-anchor="start" x="719.6" y="235.1">30°N</text>
</g>
<path d="M142.3,765.8 L80.02000000000001,774.3499999999999 L142.3,782.9 Z" fill="#29186b"/>
<rect x="141.8" y="765.8" width="103.47" height="17.100000000000023" fill="#291d83"/>
<rect x="244.77" y="765.8" width="103.47" height="17.100000000000023" fill="#20309d"/>
<rect x="347.73" y="765.8" width="103.47" height="17.100000000000023" fill="#104e96"/>
<rect x="450.7" y="765.8" width="103.47" height="17.100000000000023" fill="#16638d"/>
<rect x="553.67" y="765.8" width="103.47" height="17.100000000000023" fill="#287689"/>
<rect x="656.63" y="765.8" width="103.47" height="17.100000000000023" fill="#358988"/>
<rect x="759.6" y="765.8" width="103.47" height="17.100000000000023" fill="#409c85"/>
<rect x="862.57" y="765.8" width="103.47" height="17.100000000000023" fill="#4faf7d"/>
<rect x="965.53" y="765.8" width="103.47" height="17.100000000000023" fill="#69c26f"/>
<rect x="1068.5" y="765.8" width="103.47" height="17.100000000000023" fill="#92d160"/>
<rect x="1171.47" y="765.8" width="103.47" height="17.100000000000023" fill="#c0dd68"/>
<rect x="1274.43" y="765.8" width="103.47" height="17.100000000000023" fill="#eae886"/>
<path d="M1377.4,765.8 L1439.18,774.3499999999999 L1377.4,782.9 Z" fill="#fdee99"/>
<path d="M141.8,765.8 L1377.4,765.8 L1439.18,774.3499999999999 L1377.4,782.9 L141.8,782.9 L80.02000000000001,774.3499999999999 Z" fill="none" stroke="#000" stroke-width="1.2" stroke-linejoin="miter"/>
<path d="M141.8,782.9 v6.2" stroke="#000" stroke-width="1.4"/>
<text font-size="20.4" text-anchor="middle" x="141.6" y="810.9">33.8</text>
<path d="M347.7,782.9 v6.2" stroke="#000" stroke-width="1.4"/>
<text font-size="20.4" text-anchor="middle" x="347.5" y="810.9">34.0</text>
<path d="M553.7,782.9 v6.2" stroke="#000" stroke-width="1.4"/>
<text font-size="20.4" text-anchor="middle" x="553.5" y="810.9">34.2</text>
<path d="M759.6,782.9 v6.2" stroke="#000" stroke-width="1.4"/>
<text font-size="20.4" text-anchor="middle" x="759.4" y="810.9">34.4</text>
<path d="M965.5,782.9 v6.2" stroke="#000" stroke-width="1.4"/>
<text font-size="20.4" text-anchor="middle" x="965.3" y="810.9">34.6</text>
<path d="M1171.5,782.9 v6.2" stroke="#000" stroke-width="1.4"/>
<text font-size="20.4" text-anchor="middle" x="1171.3" y="810.9">34.8</text>
<path d="M1377.4,782.9 v6.2" stroke="#000" stroke-width="1.4"/>
<text font-size="20.4" text-anchor="middle" x="1377.2" y="810.9">35.0</text>
<text class="b" font-size="20.83" text-anchor="middle" x="759.8" y="838.1">Salinity (psu)</text>
<text class="bi" font-size="15.62" text-anchor="middle" x="759.8" y="862.7">Glider/Argo Search Window: 2025-10-13 18:00:00 to 2025-10-18 18:00:00</text>
<rect x="197.9" y="873.0" width="1122.6" height="129.4" rx="3.2" fill="#fff" stroke="#d4d4d4" stroke-width="1.5"/><use href="#mo" x="217.3" y="884.5" fill="#1f77b4"/><use href="#mh" x="217.3" y="905.4" fill="#3d8bc5"/><use href="#mp" x="217.3" y="926.2" fill="#5fa6d8"/><use href="#mo" x="217.3" y="947.0" fill="#8dc4ec"/><use href="#mh" x="217.3" y="967.9" fill="#c2e5fc"/><use href="#mp" x="217.3" y="988.8" fill="#ff7f0e"/><use href="#mo" x="346.1" y="884.5" fill="#ff9a3c"/><use href="#mh" x="346.1" y="905.4" fill="#ffb36b"/><use href="#mp" x="346.1" y="926.2" fill="#ffcb9c"/><use href="#mo" x="346.1" y="947.0" fill="#ffe1c6"/><use href="#mh" x="346.1" y="967.9" fill="#2ca02c"/><use href="#mp" x="346.1" y="988.8" fill="#48b848"/><use href="#mo" x="474.9" y="884.5" fill="#6bd06b"/><use href="#mh" x="474.9" y="905.4" fill="#93e793"/><use href="#mp" x="474.9" y="926.2" fill="#c0fcc0"/><use href="#mo" x="474.9" y="947.0" fill="#d62728"/><use href="#mh" x="474.9" y="967.9" fill="#e04848"/><use href="#mp" x="474.9" y="988.8" fill="#ea6e6e"/><use href="#mo" x="603.6" y="884.5" fill="#f59797"/><use href="#mh" x="603.6" y="905.4" fill="#fec4c4"/><use href="#mp" x="603.6" y="926.2" fill="#9467bd"/><use href="#mo" x="603.6" y="947.0" fill="#a67ccc"/><use href="#mh" x="603.6" y="967.9" fill="#ba94dd"/><use href="#mp" x="603.6" y="988.8" fill="#ceaeed"/><use href="#mo" x="732.4" y="884.5" fill="#e3c9fc"/><use href="#mh" x="732.4" y="905.4" fill="#8c564b"/><use href="#mp" x="732.4" y="926.2" fill="#a66e62"/><use href="#mo" x="732.4" y="947.0" fill="#c0887b"/><use href="#mh" x="732.4" y="967.9" fill="#dba497"/><use href="#mp" x="861.2" y="884.5" fill="#f8c9bc"/><use href="#mo" x="861.2" y="905.4" fill="#e377c2"/><use href="#mh" x="861.2" y="926.2" fill="#e98bcd"/><use href="#mp" x="861.2" y="947.0" fill="#f09fd9"/><use href="#mo" x="861.2" y="967.9" fill="#f7b4e5"/><use href="#mh" x="990.0" y="884.5" fill="#fdcbf0"/><use href="#mp" x="990.0" y="905.4" fill="#7f7f7f"/><use href="#mo" x="990.0" y="926.2" fill="#a09898"/><use href="#mh" x="990.0" y="947.0" fill="#c0adab"/><use href="#mp" x="990.0" y="967.9" fill="#e0c2bf"/><use href="#mo" x="1118.8" y="884.5" fill="#ffd0cc"/><use href="#mh" x="1118.8" y="905.4" fill="#bcbd22"/><use href="#mp" x="1118.8" y="926.2" fill="#cdce4c"/><path d="M1104.1,947.5 h31" stroke="#1f77b4" stroke-width="2.9"/><use href="#mt" x="1119.0" y="947.5" fill="#1f77b4"/><path d="M1104.1,968.4 h31" stroke="#ff7f0e" stroke-width="2.9"/><use href="#mt" x="1119.0" y="968.4" fill="#ff7f0e"/><path d="M1232.8,885.0 h31" stroke="#2ca02c" stroke-width="2.9"/><use href="#mt" x="1247.7" y="885.0" fill="#2ca02c"/><path d="M1232.8,905.9 h31" stroke="#d62728" stroke-width="2.9"/><use href="#mt" x="1247.7" y="905.9" fill="#d62728"/><path d="M1232.8,926.7 h31" stroke="#9467bd" stroke-width="2.9"/><use href="#mt" x="1247.7" y="926.7" fill="#9467bd"/><path d="M1232.8,947.5 h31" stroke="#8c564b" stroke-width="2.9"/><use href="#mt" x="1247.7" y="947.5" fill="#8c564b"/><path d="M1232.8,968.4 h31" stroke="#e377c2" stroke-width="2.9"/><use href="#mt" x="1247.7" y="968.4" fill="#e377c2"/><g font-size="13.62"><text x="242.9" y="889.5">1902270</text><text x="242.9" y="910.3">1902653</text><text x="242.9" y="931.2">1902692</text><text x="242.9" y="952.0">2903857</text><text x="242.9" y="972.9">2904010</text><text x="242.9" y="993.7">3902277</text><text x="371.7" y="889.5">3902312</text><text x="371.7" y="910.3">3902313</text><text x="371.7" y="931.2">3902329</text><text x="371.7" y="952.0">3902375</text><text x="371.7" y="972.9">4902316</text><text x="371.7" y="993.7">4902328</text><text x="500.5" y="889.5">4902333</text><text x="500.5" y="910.3">4902475</text><text x="500.5" y="931.2">4902915</text><text x="500.5" y="952.0">4903181</text><text x="500.5" y="972.9">4903182</text><text x="500.5" y="993.7">4903183</text><text x="629.2" y="889.5">4903184</text><text x="629.2" y="910.3">4903185</text><text x="629.2" y="931.2">4903188</text><text x="629.2" y="952.0">4903195</text><text x="629.2" y="972.9">4903200</text><text x="629.2" y="993.7">4903232</text><text x="758.0" y="889.5">4903248</text><text x="758.0" y="910.3">4903318</text><text x="758.0" y="931.2">4903546</text><text x="758.0" y="952.0">4903548</text><text x="758.0" y="972.9">4903551</text><text x="886.8" y="889.5">4903557</text><text x="886.8" y="910.3">4903743</text><text x="886.8" y="931.2">5905300</text><text x="886.8" y="952.0">5906017</text><text x="886.8" y="972.9">5906090</text><text x="1015.6" y="889.5">5906183</text><text x="1015.6" y="910.3">5906563</text><text x="1015.6" y="931.2">5906690</text><text x="1015.6" y="952.0">5906853</text><text x="1015.6" y="972.9">5906857</text><text x="1144.4" y="889.5">5907053</text><text x="1144.4" y="910.3">5907056</text><text x="1144.4" y="931.2">7902104</text><text x="1144.5" y="952.1">ng598</text><text x="1144.5" y="973.0">sg622</text><text x="1273.2" y="889.6">sg623</text><text x="1273.2" y="910.5">sg672</text><text x="1273.2" y="931.3">sp013</text><text x="1273.2" y="952.1">sp041</text><text x="1273.2" y="973.0">sp058</text></g>
</svg></body></html>
